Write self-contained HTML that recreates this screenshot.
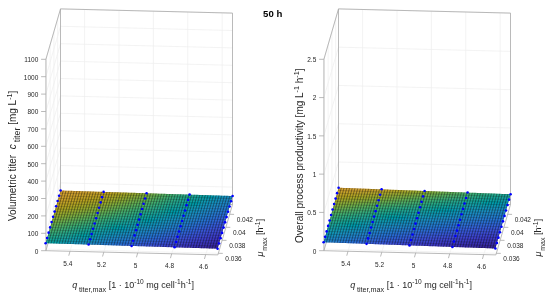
<!DOCTYPE html>
<html><head><meta charset="utf-8"><style>
html,body{margin:0;padding:0;background:#fff;width:550px;height:300px;overflow:hidden}
svg{display:block}
</style></head><body>
<svg width="550" height="300" viewBox="0 0 550 300">
<defs><filter id="bl" x="0" y="0" width="1" height="1"><feGaussianBlur stdDeviation="0.5"/></filter></defs>
<rect width="550" height="300" fill="#fff"/>
<g filter="url(#bl)">
<rect width="550" height="300" fill="#fff"/>
<line x1="84.58" y1="200.89" x2="84.58" y2="9.49" stroke="#eeeeee" stroke-width="0.7"/>
<line x1="70" y1="251.29" x2="84.58" y2="200.89" stroke="#eeeeee" stroke-width="0.7"/>
<line x1="118.98" y1="201.73" x2="118.98" y2="10.33" stroke="#eeeeee" stroke-width="0.7"/>
<line x1="103.8" y1="252.11" x2="118.98" y2="201.73" stroke="#eeeeee" stroke-width="0.7"/>
<line x1="153.38" y1="202.57" x2="153.38" y2="11.17" stroke="#eeeeee" stroke-width="0.7"/>
<line x1="137.7" y1="252.94" x2="153.38" y2="202.57" stroke="#eeeeee" stroke-width="0.7"/>
<line x1="187.78" y1="203.41" x2="187.78" y2="12.01" stroke="#eeeeee" stroke-width="0.7"/>
<line x1="171.7" y1="253.77" x2="187.78" y2="203.41" stroke="#eeeeee" stroke-width="0.7"/>
<line x1="222.18" y1="204.25" x2="222.18" y2="12.85" stroke="#eeeeee" stroke-width="0.7"/>
<line x1="205.7" y1="254.6" x2="222.18" y2="204.25" stroke="#eeeeee" stroke-width="0.7"/>
<line x1="60.5" y1="200.3" x2="232.5" y2="204.5" stroke="#eeeeee" stroke-width="0.7"/>
<line x1="45.9" y1="250.7" x2="60.5" y2="200.3" stroke="#eeeeee" stroke-width="0.7"/>
<line x1="60.5" y1="182.9" x2="232.5" y2="187.1" stroke="#eeeeee" stroke-width="0.7"/>
<line x1="45.9" y1="233.3" x2="60.5" y2="182.9" stroke="#eeeeee" stroke-width="0.7"/>
<line x1="60.5" y1="165.5" x2="232.5" y2="169.7" stroke="#eeeeee" stroke-width="0.7"/>
<line x1="45.9" y1="215.9" x2="60.5" y2="165.5" stroke="#eeeeee" stroke-width="0.7"/>
<line x1="60.5" y1="148.1" x2="232.5" y2="152.3" stroke="#eeeeee" stroke-width="0.7"/>
<line x1="45.9" y1="198.5" x2="60.5" y2="148.1" stroke="#eeeeee" stroke-width="0.7"/>
<line x1="60.5" y1="130.7" x2="232.5" y2="134.9" stroke="#eeeeee" stroke-width="0.7"/>
<line x1="45.9" y1="181.1" x2="60.5" y2="130.7" stroke="#eeeeee" stroke-width="0.7"/>
<line x1="60.5" y1="113.3" x2="232.5" y2="117.5" stroke="#eeeeee" stroke-width="0.7"/>
<line x1="45.9" y1="163.7" x2="60.5" y2="113.3" stroke="#eeeeee" stroke-width="0.7"/>
<line x1="60.5" y1="95.9" x2="232.5" y2="100.1" stroke="#eeeeee" stroke-width="0.7"/>
<line x1="45.9" y1="146.3" x2="60.5" y2="95.9" stroke="#eeeeee" stroke-width="0.7"/>
<line x1="60.5" y1="78.5" x2="232.5" y2="82.7" stroke="#eeeeee" stroke-width="0.7"/>
<line x1="45.9" y1="128.9" x2="60.5" y2="78.5" stroke="#eeeeee" stroke-width="0.7"/>
<line x1="60.5" y1="61.1" x2="232.5" y2="65.3" stroke="#eeeeee" stroke-width="0.7"/>
<line x1="45.9" y1="111.5" x2="60.5" y2="61.1" stroke="#eeeeee" stroke-width="0.7"/>
<line x1="60.5" y1="43.7" x2="232.5" y2="47.9" stroke="#eeeeee" stroke-width="0.7"/>
<line x1="45.9" y1="94.1" x2="60.5" y2="43.7" stroke="#eeeeee" stroke-width="0.7"/>
<line x1="60.5" y1="26.3" x2="232.5" y2="30.5" stroke="#eeeeee" stroke-width="0.7"/>
<line x1="45.9" y1="76.7" x2="60.5" y2="26.3" stroke="#eeeeee" stroke-width="0.7"/>
<line x1="60.5" y1="8.9" x2="232.5" y2="13.1" stroke="#eeeeee" stroke-width="0.7"/>
<line x1="45.9" y1="59.3" x2="60.5" y2="8.9" stroke="#eeeeee" stroke-width="0.7"/>
<line x1="46.37" y1="249.09" x2="46.37" y2="57.69" stroke="#eeeeee" stroke-width="0.7"/>
<line x1="46.37" y1="249.09" x2="218.37" y2="253.29" stroke="#eeeeee" stroke-width="0.7"/>
<line x1="50.13" y1="236.08" x2="50.13" y2="44.68" stroke="#eeeeee" stroke-width="0.7"/>
<line x1="50.13" y1="236.08" x2="222.13" y2="240.28" stroke="#eeeeee" stroke-width="0.7"/>
<line x1="53.9" y1="223.08" x2="53.9" y2="31.68" stroke="#eeeeee" stroke-width="0.7"/>
<line x1="53.9" y1="223.08" x2="225.9" y2="227.28" stroke="#eeeeee" stroke-width="0.7"/>
<line x1="57.67" y1="210.08" x2="57.67" y2="18.68" stroke="#eeeeee" stroke-width="0.7"/>
<line x1="57.67" y1="210.08" x2="229.67" y2="214.28" stroke="#eeeeee" stroke-width="0.7"/>
<line x1="60.5" y1="8.9" x2="232.5" y2="13.1" stroke="#a8a8a8" stroke-width="0.8"/>
<line x1="60.5" y1="200.3" x2="60.5" y2="8.9" stroke="#a8a8a8" stroke-width="0.8"/>
<line x1="232.5" y1="204.5" x2="232.5" y2="13.1" stroke="#a8a8a8" stroke-width="0.8"/>
<line x1="45.9" y1="59.3" x2="60.5" y2="8.9" stroke="#a8a8a8" stroke-width="0.8"/>
<line x1="45.9" y1="250.7" x2="45.9" y2="59.3" stroke="#a8a8a8" stroke-width="0.8"/>
<line x1="45.9" y1="250.7" x2="217.9" y2="254.9" stroke="#a8a8a8" stroke-width="0.8"/>
<line x1="217.9" y1="254.9" x2="232.5" y2="204.5" stroke="#a8a8a8" stroke-width="0.8"/>
<line x1="45.9" y1="250.7" x2="60.5" y2="200.3" stroke="#a8a8a8" stroke-width="0.8"/>
<line x1="60.5" y1="200.3" x2="232.5" y2="204.5" stroke="#a8a8a8" stroke-width="0.8"/>
<defs><linearGradient id="gL0" gradientUnits="userSpaceOnUse" x1="46.97" y1="243.24" x2="61.97" y2="190.54"><stop offset="0.000" stop-color="#0ca3a1"/><stop offset="0.167" stop-color="#33ad7e"/><stop offset="0.333" stop-color="#64b054"/><stop offset="0.500" stop-color="#95ab30"/><stop offset="0.667" stop-color="#b8a422"/><stop offset="0.833" stop-color="#cea02e"/><stop offset="1.000" stop-color="#daa334"/></linearGradient><linearGradient id="gL1" gradientUnits="userSpaceOnUse" x1="49.70" y1="243.33" x2="64.70" y2="190.63"><stop offset="0.000" stop-color="#07a2a4"/><stop offset="0.167" stop-color="#30ac82"/><stop offset="0.333" stop-color="#5fb058"/><stop offset="0.500" stop-color="#90ab33"/><stop offset="0.667" stop-color="#b5a422"/><stop offset="0.833" stop-color="#cca02c"/><stop offset="1.000" stop-color="#d9a234"/></linearGradient><linearGradient id="gL2" gradientUnits="userSpaceOnUse" x1="52.43" y1="243.42" x2="67.43" y2="190.72"><stop offset="0.000" stop-color="#02a1a7"/><stop offset="0.167" stop-color="#2dab85"/><stop offset="0.333" stop-color="#59b05d"/><stop offset="0.500" stop-color="#8cac36"/><stop offset="0.667" stop-color="#b1a522"/><stop offset="0.833" stop-color="#caa02a"/><stop offset="1.000" stop-color="#d8a234"/></linearGradient><linearGradient id="gL3" gradientUnits="userSpaceOnUse" x1="55.16" y1="243.51" x2="70.16" y2="190.81"><stop offset="0.000" stop-color="#019fab"/><stop offset="0.167" stop-color="#2baa89"/><stop offset="0.333" stop-color="#54b061"/><stop offset="0.500" stop-color="#87ad3a"/><stop offset="0.667" stop-color="#aea623"/><stop offset="0.833" stop-color="#c8a129"/><stop offset="1.000" stop-color="#d7a134"/></linearGradient><linearGradient id="gL4" gradientUnits="userSpaceOnUse" x1="57.89" y1="243.59" x2="72.89" y2="190.89"><stop offset="0.000" stop-color="#019eae"/><stop offset="0.167" stop-color="#28a98c"/><stop offset="0.333" stop-color="#4fb066"/><stop offset="0.500" stop-color="#82ad3d"/><stop offset="0.667" stop-color="#aba624"/><stop offset="0.833" stop-color="#c6a127"/><stop offset="1.000" stop-color="#d6a134"/></linearGradient><linearGradient id="gL5" gradientUnits="userSpaceOnUse" x1="60.62" y1="243.68" x2="75.62" y2="190.98"><stop offset="0.000" stop-color="#049cb1"/><stop offset="0.167" stop-color="#26a890"/><stop offset="0.333" stop-color="#4ab06a"/><stop offset="0.500" stop-color="#7dae41"/><stop offset="0.667" stop-color="#a7a725"/><stop offset="0.833" stop-color="#c4a126"/><stop offset="1.000" stop-color="#d6a034"/></linearGradient><linearGradient id="gL6" gradientUnits="userSpaceOnUse" x1="63.35" y1="243.77" x2="78.35" y2="191.07"><stop offset="0.000" stop-color="#089bb4"/><stop offset="0.167" stop-color="#22a793"/><stop offset="0.333" stop-color="#45af6e"/><stop offset="0.500" stop-color="#78ae45"/><stop offset="0.667" stop-color="#a4a827"/><stop offset="0.833" stop-color="#c2a225"/><stop offset="1.000" stop-color="#d4a034"/></linearGradient><linearGradient id="gL7" gradientUnits="userSpaceOnUse" x1="66.08" y1="243.85" x2="81.08" y2="191.15"><stop offset="0.000" stop-color="#0d99b7"/><stop offset="0.167" stop-color="#1ea696"/><stop offset="0.333" stop-color="#3faf72"/><stop offset="0.500" stop-color="#73af49"/><stop offset="0.667" stop-color="#a0a929"/><stop offset="0.833" stop-color="#bfa224"/><stop offset="1.000" stop-color="#d3a033"/></linearGradient><linearGradient id="gL8" gradientUnits="userSpaceOnUse" x1="68.81" y1="243.94" x2="83.81" y2="191.24"><stop offset="0.000" stop-color="#1198b9"/><stop offset="0.167" stop-color="#19a599"/><stop offset="0.333" stop-color="#3bae76"/><stop offset="0.500" stop-color="#6eaf4d"/><stop offset="0.667" stop-color="#9ca92b"/><stop offset="0.833" stop-color="#bda223"/><stop offset="1.000" stop-color="#d2a032"/></linearGradient><linearGradient id="gL9" gradientUnits="userSpaceOnUse" x1="71.54" y1="244.03" x2="86.54" y2="191.33"><stop offset="0.000" stop-color="#1496bc"/><stop offset="0.167" stop-color="#14a49d"/><stop offset="0.333" stop-color="#37ae7a"/><stop offset="0.500" stop-color="#69b050"/><stop offset="0.667" stop-color="#99aa2e"/><stop offset="0.833" stop-color="#bba323"/><stop offset="1.000" stop-color="#d1a031"/></linearGradient><linearGradient id="gL10" gradientUnits="userSpaceOnUse" x1="74.27" y1="244.12" x2="89.27" y2="191.42"><stop offset="0.000" stop-color="#1694be"/><stop offset="0.167" stop-color="#0ea3a0"/><stop offset="0.333" stop-color="#33ad7d"/><stop offset="0.500" stop-color="#64b054"/><stop offset="0.667" stop-color="#95ab30"/><stop offset="0.833" stop-color="#b8a322"/><stop offset="1.000" stop-color="#d0a030"/></linearGradient><linearGradient id="gL11" gradientUnits="userSpaceOnUse" x1="77.00" y1="244.20" x2="92.00" y2="191.50"><stop offset="0.000" stop-color="#1892c0"/><stop offset="0.167" stop-color="#09a2a3"/><stop offset="0.333" stop-color="#30ac81"/><stop offset="0.500" stop-color="#5fb058"/><stop offset="0.667" stop-color="#91ab33"/><stop offset="0.833" stop-color="#b6a422"/><stop offset="1.000" stop-color="#cfa02f"/></linearGradient><linearGradient id="gL12" gradientUnits="userSpaceOnUse" x1="79.73" y1="244.29" x2="94.73" y2="191.59"><stop offset="0.000" stop-color="#1a90c1"/><stop offset="0.167" stop-color="#04a1a6"/><stop offset="0.333" stop-color="#2eab84"/><stop offset="0.500" stop-color="#5ab05c"/><stop offset="0.667" stop-color="#8dac35"/><stop offset="0.833" stop-color="#b4a422"/><stop offset="1.000" stop-color="#cda02d"/></linearGradient><linearGradient id="gL13" gradientUnits="userSpaceOnUse" x1="82.46" y1="244.38" x2="97.46" y2="191.68"><stop offset="0.000" stop-color="#1c8dc3"/><stop offset="0.167" stop-color="#01a0a9"/><stop offset="0.333" stop-color="#2bab88"/><stop offset="0.500" stop-color="#55b060"/><stop offset="0.667" stop-color="#89ac38"/><stop offset="0.833" stop-color="#b1a522"/><stop offset="1.000" stop-color="#cca02c"/></linearGradient><linearGradient id="gL14" gradientUnits="userSpaceOnUse" x1="85.19" y1="244.47" x2="100.19" y2="191.77"><stop offset="0.000" stop-color="#1d8bc4"/><stop offset="0.167" stop-color="#019fac"/><stop offset="0.333" stop-color="#29aa8b"/><stop offset="0.500" stop-color="#51b064"/><stop offset="0.667" stop-color="#85ad3b"/><stop offset="0.833" stop-color="#afa623"/><stop offset="1.000" stop-color="#cba02b"/></linearGradient><linearGradient id="gL15" gradientUnits="userSpaceOnUse" x1="87.92" y1="244.55" x2="102.92" y2="191.85"><stop offset="0.000" stop-color="#1f89c5"/><stop offset="0.167" stop-color="#029eaf"/><stop offset="0.333" stop-color="#27a98e"/><stop offset="0.500" stop-color="#4cb067"/><stop offset="0.667" stop-color="#81ad3e"/><stop offset="0.833" stop-color="#aca624"/><stop offset="1.000" stop-color="#caa02a"/></linearGradient><linearGradient id="gL16" gradientUnits="userSpaceOnUse" x1="90.65" y1="244.64" x2="105.65" y2="191.94"><stop offset="0.000" stop-color="#2087c6"/><stop offset="0.167" stop-color="#059cb1"/><stop offset="0.333" stop-color="#24a891"/><stop offset="0.500" stop-color="#47af6c"/><stop offset="0.667" stop-color="#7cae42"/><stop offset="0.833" stop-color="#a8a725"/><stop offset="1.000" stop-color="#c7a128"/></linearGradient><linearGradient id="gL17" gradientUnits="userSpaceOnUse" x1="93.38" y1="244.73" x2="108.38" y2="192.03"><stop offset="0.000" stop-color="#2184c8"/><stop offset="0.167" stop-color="#099bb4"/><stop offset="0.333" stop-color="#21a794"/><stop offset="0.500" stop-color="#42af70"/><stop offset="0.667" stop-color="#76af47"/><stop offset="0.833" stop-color="#a4a827"/><stop offset="1.000" stop-color="#c3a126"/></linearGradient><linearGradient id="gL18" gradientUnits="userSpaceOnUse" x1="96.11" y1="244.82" x2="111.11" y2="192.12"><stop offset="0.000" stop-color="#2282ca"/><stop offset="0.167" stop-color="#0d99b7"/><stop offset="0.333" stop-color="#1da697"/><stop offset="0.500" stop-color="#3daf74"/><stop offset="0.667" stop-color="#71af4b"/><stop offset="0.833" stop-color="#9fa92a"/><stop offset="1.000" stop-color="#c0a224"/></linearGradient><linearGradient id="gL19" gradientUnits="userSpaceOnUse" x1="98.84" y1="244.90" x2="113.84" y2="192.20"><stop offset="0.000" stop-color="#2380cb"/><stop offset="0.167" stop-color="#1197b9"/><stop offset="0.333" stop-color="#18a59b"/><stop offset="0.500" stop-color="#39ae78"/><stop offset="0.667" stop-color="#6baf4f"/><stop offset="0.833" stop-color="#9aaa2d"/><stop offset="1.000" stop-color="#bca323"/></linearGradient><linearGradient id="gL20" gradientUnits="userSpaceOnUse" x1="101.57" y1="244.99" x2="116.57" y2="192.29"><stop offset="0.000" stop-color="#257dcd"/><stop offset="0.167" stop-color="#1496bc"/><stop offset="0.333" stop-color="#12a49e"/><stop offset="0.500" stop-color="#35ad7c"/><stop offset="0.667" stop-color="#65b053"/><stop offset="0.833" stop-color="#95ab30"/><stop offset="1.000" stop-color="#b9a322"/></linearGradient><linearGradient id="gL21" gradientUnits="userSpaceOnUse" x1="104.30" y1="245.08" x2="119.30" y2="192.38"><stop offset="0.000" stop-color="#267bcf"/><stop offset="0.167" stop-color="#1694be"/><stop offset="0.333" stop-color="#0ca3a1"/><stop offset="0.500" stop-color="#31ac80"/><stop offset="0.667" stop-color="#5fb058"/><stop offset="0.833" stop-color="#90ab33"/><stop offset="1.000" stop-color="#b5a422"/></linearGradient><linearGradient id="gL22" gradientUnits="userSpaceOnUse" x1="107.03" y1="245.16" x2="122.03" y2="192.46"><stop offset="0.000" stop-color="#2778d1"/><stop offset="0.167" stop-color="#1892c0"/><stop offset="0.333" stop-color="#07a2a4"/><stop offset="0.500" stop-color="#2fac83"/><stop offset="0.667" stop-color="#5ab05c"/><stop offset="0.833" stop-color="#8bac37"/><stop offset="1.000" stop-color="#b1a522"/></linearGradient><linearGradient id="gL23" gradientUnits="userSpaceOnUse" x1="109.76" y1="245.25" x2="124.76" y2="192.55"><stop offset="0.000" stop-color="#2776d3"/><stop offset="0.167" stop-color="#1a90c1"/><stop offset="0.333" stop-color="#03a1a7"/><stop offset="0.500" stop-color="#2cab87"/><stop offset="0.667" stop-color="#54b061"/><stop offset="0.833" stop-color="#86ad3a"/><stop offset="1.000" stop-color="#ada623"/></linearGradient><linearGradient id="gL24" gradientUnits="userSpaceOnUse" x1="112.49" y1="245.34" x2="127.49" y2="192.64"><stop offset="0.000" stop-color="#2773d5"/><stop offset="0.167" stop-color="#1b8ec3"/><stop offset="0.333" stop-color="#01a0aa"/><stop offset="0.500" stop-color="#2aaa8a"/><stop offset="0.667" stop-color="#4fb065"/><stop offset="0.833" stop-color="#81ae3f"/><stop offset="1.000" stop-color="#a9a725"/></linearGradient><linearGradient id="gL25" gradientUnits="userSpaceOnUse" x1="115.22" y1="245.43" x2="130.22" y2="192.73"><stop offset="0.000" stop-color="#2870d6"/><stop offset="0.167" stop-color="#1d8cc4"/><stop offset="0.333" stop-color="#019eac"/><stop offset="0.500" stop-color="#27a98d"/><stop offset="0.667" stop-color="#4ab069"/><stop offset="0.833" stop-color="#7bae43"/><stop offset="1.000" stop-color="#a4a827"/></linearGradient><linearGradient id="gL26" gradientUnits="userSpaceOnUse" x1="117.95" y1="245.51" x2="132.95" y2="192.81"><stop offset="0.000" stop-color="#296ed8"/><stop offset="0.167" stop-color="#1e89c5"/><stop offset="0.333" stop-color="#029daf"/><stop offset="0.500" stop-color="#25a890"/><stop offset="0.667" stop-color="#46af6d"/><stop offset="0.833" stop-color="#76af47"/><stop offset="1.000" stop-color="#a0a929"/></linearGradient><linearGradient id="gL27" gradientUnits="userSpaceOnUse" x1="120.68" y1="245.60" x2="135.68" y2="192.90"><stop offset="0.000" stop-color="#2b6bd9"/><stop offset="0.167" stop-color="#1f87c6"/><stop offset="0.333" stop-color="#059cb2"/><stop offset="0.500" stop-color="#22a793"/><stop offset="0.667" stop-color="#41af71"/><stop offset="0.833" stop-color="#71af4b"/><stop offset="1.000" stop-color="#9ba92c"/></linearGradient><linearGradient id="gL28" gradientUnits="userSpaceOnUse" x1="123.41" y1="245.69" x2="138.41" y2="192.99"><stop offset="0.000" stop-color="#2d68da"/><stop offset="0.167" stop-color="#2085c7"/><stop offset="0.333" stop-color="#099ab5"/><stop offset="0.500" stop-color="#1ea696"/><stop offset="0.667" stop-color="#3cae75"/><stop offset="0.833" stop-color="#6baf4f"/><stop offset="1.000" stop-color="#97aa2f"/></linearGradient><linearGradient id="gL29" gradientUnits="userSpaceOnUse" x1="126.14" y1="245.78" x2="141.14" y2="193.08"><stop offset="0.000" stop-color="#3065db"/><stop offset="0.167" stop-color="#2183c9"/><stop offset="0.333" stop-color="#0d99b7"/><stop offset="0.500" stop-color="#1aa599"/><stop offset="0.667" stop-color="#38ae79"/><stop offset="0.833" stop-color="#66b053"/><stop offset="1.000" stop-color="#92ab32"/></linearGradient><linearGradient id="gL30" gradientUnits="userSpaceOnUse" x1="128.87" y1="245.86" x2="143.87" y2="193.16"><stop offset="0.000" stop-color="#3362db"/><stop offset="0.167" stop-color="#2281cb"/><stop offset="0.333" stop-color="#1197b9"/><stop offset="0.500" stop-color="#15a49c"/><stop offset="0.667" stop-color="#34ad7c"/><stop offset="0.833" stop-color="#60b057"/><stop offset="1.000" stop-color="#8dac35"/></linearGradient><linearGradient id="gL31" gradientUnits="userSpaceOnUse" x1="131.60" y1="245.95" x2="146.60" y2="193.25"><stop offset="0.000" stop-color="#365fdb"/><stop offset="0.167" stop-color="#247ecc"/><stop offset="0.333" stop-color="#1496bc"/><stop offset="0.500" stop-color="#0fa39f"/><stop offset="0.667" stop-color="#31ac80"/><stop offset="0.833" stop-color="#5bb05b"/><stop offset="1.000" stop-color="#89ad38"/></linearGradient><linearGradient id="gL32" gradientUnits="userSpaceOnUse" x1="134.33" y1="246.04" x2="149.33" y2="193.34"><stop offset="0.000" stop-color="#385cdb"/><stop offset="0.167" stop-color="#257cce"/><stop offset="0.333" stop-color="#1694be"/><stop offset="0.500" stop-color="#09a2a3"/><stop offset="0.667" stop-color="#2eab84"/><stop offset="0.833" stop-color="#54b061"/><stop offset="1.000" stop-color="#81ad3e"/></linearGradient><linearGradient id="gL33" gradientUnits="userSpaceOnUse" x1="137.06" y1="246.12" x2="152.06" y2="193.42"><stop offset="0.000" stop-color="#395ada"/><stop offset="0.167" stop-color="#267ad0"/><stop offset="0.333" stop-color="#1892c0"/><stop offset="0.500" stop-color="#05a1a6"/><stop offset="0.667" stop-color="#2baa88"/><stop offset="0.833" stop-color="#4eb066"/><stop offset="1.000" stop-color="#7aae44"/></linearGradient><linearGradient id="gL34" gradientUnits="userSpaceOnUse" x1="139.79" y1="246.21" x2="154.79" y2="193.51"><stop offset="0.000" stop-color="#3a57da"/><stop offset="0.167" stop-color="#2778d2"/><stop offset="0.333" stop-color="#1a90c1"/><stop offset="0.500" stop-color="#01a0a9"/><stop offset="0.667" stop-color="#28a98c"/><stop offset="0.833" stop-color="#47af6c"/><stop offset="1.000" stop-color="#72af49"/></linearGradient><linearGradient id="gL35" gradientUnits="userSpaceOnUse" x1="142.52" y1="246.30" x2="157.52" y2="193.60"><stop offset="0.000" stop-color="#3b55d9"/><stop offset="0.167" stop-color="#2775d3"/><stop offset="0.333" stop-color="#1b8ec3"/><stop offset="0.500" stop-color="#019fac"/><stop offset="0.667" stop-color="#25a890"/><stop offset="0.833" stop-color="#41af71"/><stop offset="1.000" stop-color="#6baf4f"/></linearGradient><linearGradient id="gL36" gradientUnits="userSpaceOnUse" x1="145.25" y1="246.39" x2="160.25" y2="193.69"><stop offset="0.000" stop-color="#3c53d8"/><stop offset="0.167" stop-color="#2773d5"/><stop offset="0.333" stop-color="#1d8cc4"/><stop offset="0.500" stop-color="#039daf"/><stop offset="0.667" stop-color="#21a794"/><stop offset="0.833" stop-color="#3bae76"/><stop offset="1.000" stop-color="#63b055"/></linearGradient><linearGradient id="gL37" gradientUnits="userSpaceOnUse" x1="147.98" y1="246.47" x2="162.98" y2="193.77"><stop offset="0.000" stop-color="#3d50d8"/><stop offset="0.167" stop-color="#2870d6"/><stop offset="0.333" stop-color="#1e89c5"/><stop offset="0.500" stop-color="#069cb2"/><stop offset="0.667" stop-color="#1da697"/><stop offset="0.833" stop-color="#36ad7b"/><stop offset="1.000" stop-color="#5cb05b"/></linearGradient><linearGradient id="gL38" gradientUnits="userSpaceOnUse" x1="150.71" y1="246.56" x2="165.71" y2="193.86"><stop offset="0.000" stop-color="#3d4ed6"/><stop offset="0.167" stop-color="#296ed7"/><stop offset="0.333" stop-color="#1f87c6"/><stop offset="0.500" stop-color="#0a9ab5"/><stop offset="0.667" stop-color="#17a59b"/><stop offset="0.833" stop-color="#32ad7f"/><stop offset="1.000" stop-color="#55b060"/></linearGradient><linearGradient id="gL39" gradientUnits="userSpaceOnUse" x1="153.44" y1="246.65" x2="168.44" y2="193.95"><stop offset="0.000" stop-color="#3d4cd5"/><stop offset="0.167" stop-color="#2a6bd8"/><stop offset="0.333" stop-color="#2085c7"/><stop offset="0.500" stop-color="#0f98b8"/><stop offset="0.667" stop-color="#11a49e"/><stop offset="0.833" stop-color="#2eab84"/><stop offset="1.000" stop-color="#4eb066"/></linearGradient><linearGradient id="gL40" gradientUnits="userSpaceOnUse" x1="156.17" y1="246.74" x2="171.17" y2="194.04"><stop offset="0.000" stop-color="#3d49d4"/><stop offset="0.167" stop-color="#2d69d9"/><stop offset="0.333" stop-color="#2183c9"/><stop offset="0.500" stop-color="#1297ba"/><stop offset="0.667" stop-color="#0aa3a2"/><stop offset="0.833" stop-color="#2baa88"/><stop offset="1.000" stop-color="#47af6c"/></linearGradient><linearGradient id="gL41" gradientUnits="userSpaceOnUse" x1="158.90" y1="246.82" x2="173.90" y2="194.12"><stop offset="0.000" stop-color="#3e47d2"/><stop offset="0.167" stop-color="#2f66da"/><stop offset="0.333" stop-color="#2281cb"/><stop offset="0.500" stop-color="#1595bd"/><stop offset="0.667" stop-color="#05a1a5"/><stop offset="0.833" stop-color="#28a98c"/><stop offset="1.000" stop-color="#41af71"/></linearGradient><linearGradient id="gL42" gradientUnits="userSpaceOnUse" x1="161.63" y1="246.91" x2="176.63" y2="194.21"><stop offset="0.000" stop-color="#3e45d1"/><stop offset="0.167" stop-color="#3263db"/><stop offset="0.333" stop-color="#247ecc"/><stop offset="0.500" stop-color="#1793bf"/><stop offset="0.667" stop-color="#01a0a9"/><stop offset="0.833" stop-color="#25a890"/><stop offset="1.000" stop-color="#3bae76"/></linearGradient><linearGradient id="gL43" gradientUnits="userSpaceOnUse" x1="164.36" y1="247.00" x2="179.36" y2="194.30"><stop offset="0.000" stop-color="#3e42cf"/><stop offset="0.167" stop-color="#3560db"/><stop offset="0.333" stop-color="#257cce"/><stop offset="0.500" stop-color="#1991c1"/><stop offset="0.667" stop-color="#019fac"/><stop offset="0.833" stop-color="#21a794"/><stop offset="1.000" stop-color="#35ad7b"/></linearGradient><linearGradient id="gL44" gradientUnits="userSpaceOnUse" x1="167.09" y1="247.08" x2="182.09" y2="194.38"><stop offset="0.000" stop-color="#3e40cd"/><stop offset="0.167" stop-color="#375edb"/><stop offset="0.333" stop-color="#2679d0"/><stop offset="0.500" stop-color="#1b8ec2"/><stop offset="0.667" stop-color="#029daf"/><stop offset="0.833" stop-color="#1da697"/><stop offset="1.000" stop-color="#31ac80"/></linearGradient><linearGradient id="gL45" gradientUnits="userSpaceOnUse" x1="169.82" y1="247.17" x2="184.82" y2="194.47"><stop offset="0.000" stop-color="#3e3ecb"/><stop offset="0.167" stop-color="#395bda"/><stop offset="0.333" stop-color="#2777d2"/><stop offset="0.500" stop-color="#1c8cc3"/><stop offset="0.667" stop-color="#069cb2"/><stop offset="0.833" stop-color="#17a59b"/><stop offset="1.000" stop-color="#2eab84"/></linearGradient><linearGradient id="gL46" gradientUnits="userSpaceOnUse" x1="172.55" y1="247.26" x2="187.55" y2="194.56"><stop offset="0.000" stop-color="#3d3bc9"/><stop offset="0.167" stop-color="#3a59da"/><stop offset="0.333" stop-color="#2775d4"/><stop offset="0.500" stop-color="#1e8ac5"/><stop offset="0.667" stop-color="#0a9ab5"/><stop offset="0.833" stop-color="#10a49f"/><stop offset="1.000" stop-color="#2baa88"/></linearGradient><linearGradient id="gL47" gradientUnits="userSpaceOnUse" x1="175.28" y1="247.35" x2="190.28" y2="194.65"><stop offset="0.000" stop-color="#3d39c6"/><stop offset="0.167" stop-color="#3b56d9"/><stop offset="0.333" stop-color="#2872d5"/><stop offset="0.500" stop-color="#1f88c6"/><stop offset="0.667" stop-color="#0f98b8"/><stop offset="0.833" stop-color="#09a2a2"/><stop offset="1.000" stop-color="#28a98d"/></linearGradient><linearGradient id="gL48" gradientUnits="userSpaceOnUse" x1="178.01" y1="247.43" x2="193.01" y2="194.73"><stop offset="0.000" stop-color="#3d37c4"/><stop offset="0.167" stop-color="#3c53d9"/><stop offset="0.333" stop-color="#286fd7"/><stop offset="0.500" stop-color="#2085c7"/><stop offset="0.667" stop-color="#1396bb"/><stop offset="0.833" stop-color="#04a1a6"/><stop offset="1.000" stop-color="#24a891"/></linearGradient><linearGradient id="gL49" gradientUnits="userSpaceOnUse" x1="180.74" y1="247.52" x2="195.74" y2="194.82"><stop offset="0.000" stop-color="#3d35c1"/><stop offset="0.167" stop-color="#3c51d8"/><stop offset="0.333" stop-color="#2a6cd8"/><stop offset="0.500" stop-color="#2182c9"/><stop offset="0.667" stop-color="#1694be"/><stop offset="0.833" stop-color="#019faa"/><stop offset="1.000" stop-color="#20a795"/></linearGradient><linearGradient id="gL50" gradientUnits="userSpaceOnUse" x1="183.47" y1="247.61" x2="198.47" y2="194.91"><stop offset="0.000" stop-color="#3c33bf"/><stop offset="0.167" stop-color="#3d4fd7"/><stop offset="0.333" stop-color="#2c69d9"/><stop offset="0.500" stop-color="#2380cb"/><stop offset="0.667" stop-color="#1991c0"/><stop offset="0.833" stop-color="#019eae"/><stop offset="1.000" stop-color="#19a599"/></linearGradient><linearGradient id="gL51" gradientUnits="userSpaceOnUse" x1="186.20" y1="247.70" x2="201.20" y2="195.00"><stop offset="0.000" stop-color="#3c32bc"/><stop offset="0.167" stop-color="#3d4cd5"/><stop offset="0.333" stop-color="#2f66da"/><stop offset="0.500" stop-color="#257dcd"/><stop offset="0.667" stop-color="#1b8fc2"/><stop offset="0.833" stop-color="#059cb2"/><stop offset="1.000" stop-color="#12a49e"/></linearGradient><linearGradient id="gL52" gradientUnits="userSpaceOnUse" x1="188.93" y1="247.78" x2="203.93" y2="195.08"><stop offset="0.000" stop-color="#3c30b9"/><stop offset="0.167" stop-color="#3d4ad4"/><stop offset="0.333" stop-color="#3263db"/><stop offset="0.500" stop-color="#267ad0"/><stop offset="0.667" stop-color="#1c8cc4"/><stop offset="0.833" stop-color="#0b9ab5"/><stop offset="1.000" stop-color="#0aa3a2"/></linearGradient><linearGradient id="gL53" gradientUnits="userSpaceOnUse" x1="191.66" y1="247.87" x2="206.66" y2="195.17"><stop offset="0.000" stop-color="#3b2eb6"/><stop offset="0.167" stop-color="#3e47d2"/><stop offset="0.333" stop-color="#3560db"/><stop offset="0.500" stop-color="#2777d2"/><stop offset="0.667" stop-color="#1e89c5"/><stop offset="0.833" stop-color="#1098b9"/><stop offset="1.000" stop-color="#05a1a6"/></linearGradient><linearGradient id="gL54" gradientUnits="userSpaceOnUse" x1="194.39" y1="247.96" x2="209.39" y2="195.26"><stop offset="0.000" stop-color="#3b2db2"/><stop offset="0.167" stop-color="#3e45d1"/><stop offset="0.333" stop-color="#375ddb"/><stop offset="0.500" stop-color="#2774d4"/><stop offset="0.667" stop-color="#2087c6"/><stop offset="0.833" stop-color="#1496bc"/><stop offset="1.000" stop-color="#01a0aa"/></linearGradient><linearGradient id="gL55" gradientUnits="userSpaceOnUse" x1="197.12" y1="248.05" x2="212.12" y2="195.35"><stop offset="0.000" stop-color="#3a2bae"/><stop offset="0.167" stop-color="#3e42cf"/><stop offset="0.333" stop-color="#395ada"/><stop offset="0.500" stop-color="#2871d6"/><stop offset="0.667" stop-color="#2184c8"/><stop offset="0.833" stop-color="#1793be"/><stop offset="1.000" stop-color="#019ead"/></linearGradient><linearGradient id="gL56" gradientUnits="userSpaceOnUse" x1="199.85" y1="248.13" x2="214.85" y2="195.43"><stop offset="0.000" stop-color="#392aab"/><stop offset="0.167" stop-color="#3e40cd"/><stop offset="0.333" stop-color="#3a57da"/><stop offset="0.500" stop-color="#296ed7"/><stop offset="0.667" stop-color="#2281ca"/><stop offset="0.833" stop-color="#1991c1"/><stop offset="1.000" stop-color="#049cb1"/></linearGradient><linearGradient id="gL57" gradientUnits="userSpaceOnUse" x1="202.58" y1="248.22" x2="217.58" y2="195.52"><stop offset="0.000" stop-color="#3929a7"/><stop offset="0.167" stop-color="#3d3ecb"/><stop offset="0.333" stop-color="#3c54d9"/><stop offset="0.500" stop-color="#2b6bd9"/><stop offset="0.667" stop-color="#247ecd"/><stop offset="0.833" stop-color="#1b8ec3"/><stop offset="1.000" stop-color="#099ab5"/></linearGradient><linearGradient id="gL58" gradientUnits="userSpaceOnUse" x1="205.31" y1="248.31" x2="220.31" y2="195.61"><stop offset="0.000" stop-color="#3827a3"/><stop offset="0.167" stop-color="#3d3bc8"/><stop offset="0.333" stop-color="#3c51d8"/><stop offset="0.500" stop-color="#2e68da"/><stop offset="0.667" stop-color="#267bcf"/><stop offset="0.833" stop-color="#1d8bc4"/><stop offset="1.000" stop-color="#0f98b8"/></linearGradient><linearGradient id="gL59" gradientUnits="userSpaceOnUse" x1="208.04" y1="248.39" x2="223.04" y2="195.69"><stop offset="0.000" stop-color="#38269f"/><stop offset="0.167" stop-color="#3d39c6"/><stop offset="0.333" stop-color="#3d4ed7"/><stop offset="0.500" stop-color="#3164db"/><stop offset="0.667" stop-color="#2778d1"/><stop offset="0.833" stop-color="#1f88c5"/><stop offset="1.000" stop-color="#1396bb"/></linearGradient><linearGradient id="gL60" gradientUnits="userSpaceOnUse" x1="210.77" y1="248.48" x2="225.77" y2="195.78"><stop offset="0.000" stop-color="#37249b"/><stop offset="0.167" stop-color="#3d36c3"/><stop offset="0.333" stop-color="#3d4cd5"/><stop offset="0.500" stop-color="#3461db"/><stop offset="0.667" stop-color="#2775d4"/><stop offset="0.833" stop-color="#2086c7"/><stop offset="1.000" stop-color="#1694be"/></linearGradient><linearGradient id="gL61" gradientUnits="userSpaceOnUse" x1="213.50" y1="248.57" x2="228.50" y2="195.87"><stop offset="0.000" stop-color="#362397"/><stop offset="0.167" stop-color="#3c34c0"/><stop offset="0.333" stop-color="#3d49d3"/><stop offset="0.500" stop-color="#375ddb"/><stop offset="0.667" stop-color="#2872d6"/><stop offset="0.833" stop-color="#2183c9"/><stop offset="1.000" stop-color="#1991c0"/></linearGradient><linearGradient id="gL62" gradientUnits="userSpaceOnUse" x1="216.23" y1="248.66" x2="231.23" y2="195.96"><stop offset="0.000" stop-color="#352293"/><stop offset="0.167" stop-color="#3c32bc"/><stop offset="0.333" stop-color="#3e46d1"/><stop offset="0.500" stop-color="#395ada"/><stop offset="0.667" stop-color="#296fd7"/><stop offset="0.833" stop-color="#2380cb"/><stop offset="1.000" stop-color="#1b8fc2"/></linearGradient><clipPath id="cgL"><polygon points="45.6,243.2 217.6,248.7 232.6,196.0 60.6,190.5"/></clipPath></defs>
<polygon points="45.60,243.20 48.59,243.30 63.59,190.60 60.60,190.50" fill="url(#gL0)"/>
<polygon points="48.07,243.28 51.32,243.38 66.32,190.68 63.07,190.58" fill="url(#gL1)"/>
<polygon points="50.80,243.37 54.05,243.47 69.05,190.77 65.80,190.67" fill="url(#gL2)"/>
<polygon points="53.53,243.45 56.78,243.56 71.78,190.86 68.53,190.75" fill="url(#gL3)"/>
<polygon points="56.26,243.54 59.51,243.64 74.51,190.94 71.26,190.84" fill="url(#gL4)"/>
<polygon points="58.99,243.63 62.24,243.73 77.24,191.03 73.99,190.93" fill="url(#gL5)"/>
<polygon points="61.72,243.72 64.97,243.82 79.97,191.12 76.72,191.02" fill="url(#gL6)"/>
<polygon points="64.45,243.80 67.70,243.91 82.70,191.21 79.45,191.10" fill="url(#gL7)"/>
<polygon points="67.18,243.89 70.43,243.99 85.43,191.29 82.18,191.19" fill="url(#gL8)"/>
<polygon points="69.91,243.98 73.16,244.08 88.16,191.38 84.91,191.28" fill="url(#gL9)"/>
<polygon points="72.64,244.06 75.89,244.17 90.89,191.47 87.64,191.36" fill="url(#gL10)"/>
<polygon points="75.37,244.15 78.62,244.26 93.62,191.56 90.37,191.45" fill="url(#gL11)"/>
<polygon points="78.10,244.24 81.35,244.34 96.35,191.64 93.10,191.54" fill="url(#gL12)"/>
<polygon points="80.83,244.33 84.08,244.43 99.08,191.73 95.83,191.63" fill="url(#gL13)"/>
<polygon points="83.56,244.41 86.81,244.52 101.81,191.82 98.56,191.71" fill="url(#gL14)"/>
<polygon points="86.29,244.50 89.54,244.61 104.54,191.91 101.29,191.80" fill="url(#gL15)"/>
<polygon points="89.02,244.59 92.27,244.69 107.27,191.99 104.02,191.89" fill="url(#gL16)"/>
<polygon points="91.75,244.68 95.00,244.78 110.00,192.08 106.75,191.98" fill="url(#gL17)"/>
<polygon points="94.48,244.76 97.73,244.87 112.73,192.17 109.48,192.06" fill="url(#gL18)"/>
<polygon points="97.22,244.85 100.46,244.95 115.46,192.25 112.22,192.15" fill="url(#gL19)"/>
<polygon points="99.95,244.94 103.19,245.04 118.19,192.34 114.95,192.24" fill="url(#gL20)"/>
<polygon points="102.68,245.03 105.92,245.13 120.92,192.43 117.68,192.33" fill="url(#gL21)"/>
<polygon points="105.41,245.11 108.65,245.22 123.65,192.52 120.41,192.41" fill="url(#gL22)"/>
<polygon points="108.14,245.20 111.38,245.30 126.38,192.60 123.14,192.50" fill="url(#gL23)"/>
<polygon points="110.87,245.29 114.11,245.39 129.11,192.69 125.87,192.59" fill="url(#gL24)"/>
<polygon points="113.60,245.37 116.84,245.48 131.84,192.78 128.60,192.67" fill="url(#gL25)"/>
<polygon points="116.33,245.46 119.57,245.57 134.57,192.87 131.33,192.76" fill="url(#gL26)"/>
<polygon points="119.06,245.55 122.30,245.65 137.30,192.95 134.06,192.85" fill="url(#gL27)"/>
<polygon points="121.79,245.64 125.03,245.74 140.03,193.04 136.79,192.94" fill="url(#gL28)"/>
<polygon points="124.52,245.72 127.76,245.83 142.76,193.13 139.52,193.02" fill="url(#gL29)"/>
<polygon points="127.25,245.81 130.49,245.91 145.49,193.21 142.25,193.11" fill="url(#gL30)"/>
<polygon points="129.98,245.90 133.22,246.00 148.22,193.30 144.98,193.20" fill="url(#gL31)"/>
<polygon points="132.71,245.99 135.95,246.09 150.95,193.39 147.71,193.29" fill="url(#gL32)"/>
<polygon points="135.44,246.07 138.68,246.18 153.68,193.48 150.44,193.37" fill="url(#gL33)"/>
<polygon points="138.17,246.16 141.41,246.26 156.41,193.56 153.17,193.46" fill="url(#gL34)"/>
<polygon points="140.90,246.25 144.14,246.35 159.14,193.65 155.90,193.55" fill="url(#gL35)"/>
<polygon points="143.63,246.33 146.87,246.44 161.87,193.74 158.63,193.63" fill="url(#gL36)"/>
<polygon points="146.36,246.42 149.60,246.53 164.60,193.83 161.36,193.72" fill="url(#gL37)"/>
<polygon points="149.09,246.51 152.33,246.61 167.33,193.91 164.09,193.81" fill="url(#gL38)"/>
<polygon points="151.82,246.60 155.06,246.70 170.06,194.00 166.82,193.90" fill="url(#gL39)"/>
<polygon points="154.55,246.68 157.79,246.79 172.79,194.09 169.55,193.98" fill="url(#gL40)"/>
<polygon points="157.28,246.77 160.52,246.87 175.52,194.17 172.28,194.07" fill="url(#gL41)"/>
<polygon points="160.01,246.86 163.25,246.96 178.25,194.26 175.01,194.16" fill="url(#gL42)"/>
<polygon points="162.74,246.95 165.98,247.05 180.98,194.35 177.74,194.25" fill="url(#gL43)"/>
<polygon points="165.47,247.03 168.72,247.14 183.72,194.44 180.47,194.33" fill="url(#gL44)"/>
<polygon points="168.20,247.12 171.45,247.22 186.45,194.52 183.20,194.42" fill="url(#gL45)"/>
<polygon points="170.93,247.21 174.18,247.31 189.18,194.61 185.93,194.51" fill="url(#gL46)"/>
<polygon points="173.66,247.29 176.91,247.40 191.91,194.70 188.66,194.59" fill="url(#gL47)"/>
<polygon points="176.39,247.38 179.64,247.49 194.64,194.79 191.39,194.68" fill="url(#gL48)"/>
<polygon points="179.12,247.47 182.37,247.57 197.37,194.87 194.12,194.77" fill="url(#gL49)"/>
<polygon points="181.85,247.56 185.10,247.66 200.10,194.96 196.85,194.86" fill="url(#gL50)"/>
<polygon points="184.58,247.64 187.83,247.75 202.83,195.05 199.58,194.94" fill="url(#gL51)"/>
<polygon points="187.31,247.73 190.56,247.84 205.56,195.14 202.31,195.03" fill="url(#gL52)"/>
<polygon points="190.04,247.82 193.29,247.92 208.29,195.22 205.04,195.12" fill="url(#gL53)"/>
<polygon points="192.77,247.91 196.02,248.01 211.02,195.31 207.77,195.21" fill="url(#gL54)"/>
<polygon points="195.50,247.99 198.75,248.10 213.75,195.40 210.50,195.29" fill="url(#gL55)"/>
<polygon points="198.23,248.08 201.48,248.18 216.48,195.48 213.23,195.38" fill="url(#gL56)"/>
<polygon points="200.96,248.17 204.21,248.27 219.21,195.57 215.96,195.47" fill="url(#gL57)"/>
<polygon points="203.69,248.26 206.94,248.36 221.94,195.66 218.69,195.56" fill="url(#gL58)"/>
<polygon points="206.42,248.34 209.67,248.45 224.67,195.75 221.42,195.64" fill="url(#gL59)"/>
<polygon points="209.15,248.43 212.40,248.53 227.40,195.83 224.15,195.73" fill="url(#gL60)"/>
<polygon points="211.88,248.52 215.13,248.62 230.13,195.92 226.88,195.82" fill="url(#gL61)"/>
<polygon points="214.61,248.60 217.60,248.70 232.60,196.00 229.61,195.90" fill="url(#gL62)"/>
<g clip-path="url(#cgL)">
<line x1="45.6" y1="243.2" x2="60.6" y2="190.5" stroke="#000" stroke-width="0.9" stroke-opacity="0.45"/>
<line x1="48.33" y1="243.29" x2="63.33" y2="190.59" stroke="#000" stroke-width="0.9" stroke-opacity="0.45"/>
<line x1="51.06" y1="243.37" x2="66.06" y2="190.67" stroke="#000" stroke-width="0.9" stroke-opacity="0.45"/>
<line x1="53.79" y1="243.46" x2="68.79" y2="190.76" stroke="#000" stroke-width="0.9" stroke-opacity="0.45"/>
<line x1="56.52" y1="243.55" x2="71.52" y2="190.85" stroke="#000" stroke-width="0.9" stroke-opacity="0.45"/>
<line x1="59.25" y1="243.64" x2="74.25" y2="190.94" stroke="#000" stroke-width="0.9" stroke-opacity="0.45"/>
<line x1="61.98" y1="243.72" x2="76.98" y2="191.02" stroke="#000" stroke-width="0.9" stroke-opacity="0.45"/>
<line x1="64.71" y1="243.81" x2="79.71" y2="191.11" stroke="#000" stroke-width="0.9" stroke-opacity="0.45"/>
<line x1="67.44" y1="243.9" x2="82.44" y2="191.2" stroke="#000" stroke-width="0.9" stroke-opacity="0.45"/>
<line x1="70.17" y1="243.99" x2="85.17" y2="191.29" stroke="#000" stroke-width="0.9" stroke-opacity="0.45"/>
<line x1="72.9" y1="244.07" x2="87.9" y2="191.37" stroke="#000" stroke-width="0.9" stroke-opacity="0.45"/>
<line x1="75.63" y1="244.16" x2="90.63" y2="191.46" stroke="#000" stroke-width="0.9" stroke-opacity="0.45"/>
<line x1="78.36" y1="244.25" x2="93.36" y2="191.55" stroke="#000" stroke-width="0.9" stroke-opacity="0.45"/>
<line x1="81.09" y1="244.33" x2="96.09" y2="191.63" stroke="#000" stroke-width="0.9" stroke-opacity="0.45"/>
<line x1="83.82" y1="244.42" x2="98.82" y2="191.72" stroke="#000" stroke-width="0.9" stroke-opacity="0.45"/>
<line x1="86.55" y1="244.51" x2="101.55" y2="191.81" stroke="#000" stroke-width="0.9" stroke-opacity="0.45"/>
<line x1="89.28" y1="244.6" x2="104.28" y2="191.9" stroke="#000" stroke-width="0.9" stroke-opacity="0.45"/>
<line x1="92.01" y1="244.68" x2="107.01" y2="191.98" stroke="#000" stroke-width="0.9" stroke-opacity="0.45"/>
<line x1="94.74" y1="244.77" x2="109.74" y2="192.07" stroke="#000" stroke-width="0.9" stroke-opacity="0.45"/>
<line x1="97.47" y1="244.86" x2="112.47" y2="192.16" stroke="#000" stroke-width="0.9" stroke-opacity="0.45"/>
<line x1="100.2" y1="244.95" x2="115.2" y2="192.25" stroke="#000" stroke-width="0.9" stroke-opacity="0.45"/>
<line x1="102.93" y1="245.03" x2="117.93" y2="192.33" stroke="#000" stroke-width="0.9" stroke-opacity="0.45"/>
<line x1="105.66" y1="245.12" x2="120.66" y2="192.42" stroke="#000" stroke-width="0.9" stroke-opacity="0.45"/>
<line x1="108.39" y1="245.21" x2="123.39" y2="192.51" stroke="#000" stroke-width="0.9" stroke-opacity="0.45"/>
<line x1="111.12" y1="245.3" x2="126.12" y2="192.6" stroke="#000" stroke-width="0.9" stroke-opacity="0.45"/>
<line x1="113.85" y1="245.38" x2="128.85" y2="192.68" stroke="#000" stroke-width="0.9" stroke-opacity="0.45"/>
<line x1="116.58" y1="245.47" x2="131.58" y2="192.77" stroke="#000" stroke-width="0.9" stroke-opacity="0.45"/>
<line x1="119.31" y1="245.56" x2="134.31" y2="192.86" stroke="#000" stroke-width="0.9" stroke-opacity="0.45"/>
<line x1="122.04" y1="245.64" x2="137.04" y2="192.94" stroke="#000" stroke-width="0.9" stroke-opacity="0.45"/>
<line x1="124.77" y1="245.73" x2="139.77" y2="193.03" stroke="#000" stroke-width="0.9" stroke-opacity="0.45"/>
<line x1="127.5" y1="245.82" x2="142.5" y2="193.12" stroke="#000" stroke-width="0.9" stroke-opacity="0.45"/>
<line x1="130.23" y1="245.91" x2="145.23" y2="193.21" stroke="#000" stroke-width="0.9" stroke-opacity="0.45"/>
<line x1="132.97" y1="245.99" x2="147.97" y2="193.29" stroke="#000" stroke-width="0.9" stroke-opacity="0.45"/>
<line x1="135.7" y1="246.08" x2="150.7" y2="193.38" stroke="#000" stroke-width="0.9" stroke-opacity="0.45"/>
<line x1="138.43" y1="246.17" x2="153.43" y2="193.47" stroke="#000" stroke-width="0.9" stroke-opacity="0.45"/>
<line x1="141.16" y1="246.26" x2="156.16" y2="193.56" stroke="#000" stroke-width="0.9" stroke-opacity="0.45"/>
<line x1="143.89" y1="246.34" x2="158.89" y2="193.64" stroke="#000" stroke-width="0.9" stroke-opacity="0.45"/>
<line x1="146.62" y1="246.43" x2="161.62" y2="193.73" stroke="#000" stroke-width="0.9" stroke-opacity="0.45"/>
<line x1="149.35" y1="246.52" x2="164.35" y2="193.82" stroke="#000" stroke-width="0.9" stroke-opacity="0.45"/>
<line x1="152.08" y1="246.6" x2="167.08" y2="193.9" stroke="#000" stroke-width="0.9" stroke-opacity="0.45"/>
<line x1="154.81" y1="246.69" x2="169.81" y2="193.99" stroke="#000" stroke-width="0.9" stroke-opacity="0.45"/>
<line x1="157.54" y1="246.78" x2="172.54" y2="194.08" stroke="#000" stroke-width="0.9" stroke-opacity="0.45"/>
<line x1="160.27" y1="246.87" x2="175.27" y2="194.17" stroke="#000" stroke-width="0.9" stroke-opacity="0.45"/>
<line x1="163" y1="246.95" x2="178" y2="194.25" stroke="#000" stroke-width="0.9" stroke-opacity="0.45"/>
<line x1="165.73" y1="247.04" x2="180.73" y2="194.34" stroke="#000" stroke-width="0.9" stroke-opacity="0.45"/>
<line x1="168.46" y1="247.13" x2="183.46" y2="194.43" stroke="#000" stroke-width="0.9" stroke-opacity="0.45"/>
<line x1="171.19" y1="247.22" x2="186.19" y2="194.52" stroke="#000" stroke-width="0.9" stroke-opacity="0.45"/>
<line x1="173.92" y1="247.3" x2="188.92" y2="194.6" stroke="#000" stroke-width="0.9" stroke-opacity="0.45"/>
<line x1="176.65" y1="247.39" x2="191.65" y2="194.69" stroke="#000" stroke-width="0.9" stroke-opacity="0.45"/>
<line x1="179.38" y1="247.48" x2="194.38" y2="194.78" stroke="#000" stroke-width="0.9" stroke-opacity="0.45"/>
<line x1="182.11" y1="247.57" x2="197.11" y2="194.87" stroke="#000" stroke-width="0.9" stroke-opacity="0.45"/>
<line x1="184.84" y1="247.65" x2="199.84" y2="194.95" stroke="#000" stroke-width="0.9" stroke-opacity="0.45"/>
<line x1="187.57" y1="247.74" x2="202.57" y2="195.04" stroke="#000" stroke-width="0.9" stroke-opacity="0.45"/>
<line x1="190.3" y1="247.83" x2="205.3" y2="195.13" stroke="#000" stroke-width="0.9" stroke-opacity="0.45"/>
<line x1="193.03" y1="247.91" x2="208.03" y2="195.21" stroke="#000" stroke-width="0.9" stroke-opacity="0.45"/>
<line x1="195.76" y1="248" x2="210.76" y2="195.3" stroke="#000" stroke-width="0.9" stroke-opacity="0.45"/>
<line x1="198.49" y1="248.09" x2="213.49" y2="195.39" stroke="#000" stroke-width="0.9" stroke-opacity="0.45"/>
<line x1="201.22" y1="248.18" x2="216.22" y2="195.48" stroke="#000" stroke-width="0.9" stroke-opacity="0.45"/>
<line x1="203.95" y1="248.26" x2="218.95" y2="195.56" stroke="#000" stroke-width="0.9" stroke-opacity="0.45"/>
<line x1="206.68" y1="248.35" x2="221.68" y2="195.65" stroke="#000" stroke-width="0.9" stroke-opacity="0.45"/>
<line x1="209.41" y1="248.44" x2="224.41" y2="195.74" stroke="#000" stroke-width="0.9" stroke-opacity="0.45"/>
<line x1="212.14" y1="248.53" x2="227.14" y2="195.83" stroke="#000" stroke-width="0.9" stroke-opacity="0.45"/>
<line x1="214.87" y1="248.61" x2="229.87" y2="195.91" stroke="#000" stroke-width="0.9" stroke-opacity="0.45"/>
<line x1="217.6" y1="248.7" x2="232.6" y2="196" stroke="#000" stroke-width="0.9" stroke-opacity="0.45"/>
<line x1="45.6" y1="243.2" x2="217.6" y2="248.7" stroke="#000" stroke-width="0.6" stroke-opacity="0.3"/>
<line x1="46.35" y1="240.56" x2="218.35" y2="246.06" stroke="#000" stroke-width="0.6" stroke-opacity="0.3"/>
<line x1="47.1" y1="237.93" x2="219.1" y2="243.43" stroke="#000" stroke-width="0.6" stroke-opacity="0.3"/>
<line x1="47.85" y1="235.29" x2="219.85" y2="240.79" stroke="#000" stroke-width="0.6" stroke-opacity="0.3"/>
<line x1="48.6" y1="232.66" x2="220.6" y2="238.16" stroke="#000" stroke-width="0.6" stroke-opacity="0.3"/>
<line x1="49.35" y1="230.02" x2="221.35" y2="235.52" stroke="#000" stroke-width="0.6" stroke-opacity="0.3"/>
<line x1="50.1" y1="227.39" x2="222.1" y2="232.89" stroke="#000" stroke-width="0.6" stroke-opacity="0.3"/>
<line x1="50.85" y1="224.75" x2="222.85" y2="230.25" stroke="#000" stroke-width="0.6" stroke-opacity="0.3"/>
<line x1="51.6" y1="222.12" x2="223.6" y2="227.62" stroke="#000" stroke-width="0.6" stroke-opacity="0.3"/>
<line x1="52.35" y1="219.48" x2="224.35" y2="224.98" stroke="#000" stroke-width="0.6" stroke-opacity="0.3"/>
<line x1="53.1" y1="216.85" x2="225.1" y2="222.35" stroke="#000" stroke-width="0.6" stroke-opacity="0.3"/>
<line x1="53.85" y1="214.22" x2="225.85" y2="219.72" stroke="#000" stroke-width="0.6" stroke-opacity="0.3"/>
<line x1="54.6" y1="211.58" x2="226.6" y2="217.08" stroke="#000" stroke-width="0.6" stroke-opacity="0.3"/>
<line x1="55.35" y1="208.94" x2="227.35" y2="214.44" stroke="#000" stroke-width="0.6" stroke-opacity="0.3"/>
<line x1="56.1" y1="206.31" x2="228.1" y2="211.81" stroke="#000" stroke-width="0.6" stroke-opacity="0.3"/>
<line x1="56.85" y1="203.68" x2="228.85" y2="209.18" stroke="#000" stroke-width="0.6" stroke-opacity="0.3"/>
<line x1="57.6" y1="201.04" x2="229.6" y2="206.54" stroke="#000" stroke-width="0.6" stroke-opacity="0.3"/>
<line x1="58.35" y1="198.41" x2="230.35" y2="203.91" stroke="#000" stroke-width="0.6" stroke-opacity="0.3"/>
<line x1="59.1" y1="195.77" x2="231.1" y2="201.27" stroke="#000" stroke-width="0.6" stroke-opacity="0.3"/>
<line x1="59.85" y1="193.13" x2="231.85" y2="198.63" stroke="#000" stroke-width="0.6" stroke-opacity="0.3"/>
<line x1="60.6" y1="190.5" x2="232.6" y2="196" stroke="#000" stroke-width="0.6" stroke-opacity="0.3"/>
</g>
<circle cx="45.60" cy="243.20" r="1.3" fill="#0000ff"/>
<circle cx="47.10" cy="237.93" r="1.3" fill="#0000ff"/>
<circle cx="48.60" cy="232.66" r="1.3" fill="#0000ff"/>
<circle cx="50.10" cy="227.39" r="1.3" fill="#0000ff"/>
<circle cx="51.60" cy="222.12" r="1.3" fill="#0000ff"/>
<circle cx="53.10" cy="216.85" r="1.3" fill="#0000ff"/>
<circle cx="54.60" cy="211.58" r="1.3" fill="#0000ff"/>
<circle cx="56.10" cy="206.31" r="1.3" fill="#0000ff"/>
<circle cx="57.60" cy="201.04" r="1.3" fill="#0000ff"/>
<circle cx="59.10" cy="195.77" r="1.3" fill="#0000ff"/>
<circle cx="60.60" cy="190.50" r="1.3" fill="#0000ff"/>
<circle cx="88.60" cy="244.57" r="1.3" fill="#0000ff"/>
<circle cx="90.10" cy="239.30" r="1.3" fill="#0000ff"/>
<circle cx="91.60" cy="234.03" r="1.3" fill="#0000ff"/>
<circle cx="93.10" cy="228.76" r="1.3" fill="#0000ff"/>
<circle cx="94.60" cy="223.50" r="1.3" fill="#0000ff"/>
<circle cx="96.10" cy="218.22" r="1.3" fill="#0000ff"/>
<circle cx="97.60" cy="212.95" r="1.3" fill="#0000ff"/>
<circle cx="99.10" cy="207.69" r="1.3" fill="#0000ff"/>
<circle cx="100.60" cy="202.41" r="1.3" fill="#0000ff"/>
<circle cx="102.10" cy="197.14" r="1.3" fill="#0000ff"/>
<circle cx="103.60" cy="191.88" r="1.3" fill="#0000ff"/>
<circle cx="131.60" cy="245.95" r="1.3" fill="#0000ff"/>
<circle cx="133.10" cy="240.68" r="1.3" fill="#0000ff"/>
<circle cx="134.60" cy="235.41" r="1.3" fill="#0000ff"/>
<circle cx="136.10" cy="230.14" r="1.3" fill="#0000ff"/>
<circle cx="137.60" cy="224.87" r="1.3" fill="#0000ff"/>
<circle cx="139.10" cy="219.60" r="1.3" fill="#0000ff"/>
<circle cx="140.60" cy="214.33" r="1.3" fill="#0000ff"/>
<circle cx="142.10" cy="209.06" r="1.3" fill="#0000ff"/>
<circle cx="143.60" cy="203.79" r="1.3" fill="#0000ff"/>
<circle cx="145.10" cy="198.52" r="1.3" fill="#0000ff"/>
<circle cx="146.60" cy="193.25" r="1.3" fill="#0000ff"/>
<circle cx="174.60" cy="247.32" r="1.3" fill="#0000ff"/>
<circle cx="176.10" cy="242.05" r="1.3" fill="#0000ff"/>
<circle cx="177.60" cy="236.78" r="1.3" fill="#0000ff"/>
<circle cx="179.10" cy="231.51" r="1.3" fill="#0000ff"/>
<circle cx="180.60" cy="226.25" r="1.3" fill="#0000ff"/>
<circle cx="182.10" cy="220.97" r="1.3" fill="#0000ff"/>
<circle cx="183.60" cy="215.70" r="1.3" fill="#0000ff"/>
<circle cx="185.10" cy="210.44" r="1.3" fill="#0000ff"/>
<circle cx="186.60" cy="205.16" r="1.3" fill="#0000ff"/>
<circle cx="188.10" cy="199.89" r="1.3" fill="#0000ff"/>
<circle cx="189.60" cy="194.62" r="1.3" fill="#0000ff"/>
<circle cx="217.60" cy="248.70" r="1.3" fill="#0000ff"/>
<circle cx="219.10" cy="243.43" r="1.3" fill="#0000ff"/>
<circle cx="220.60" cy="238.16" r="1.3" fill="#0000ff"/>
<circle cx="222.10" cy="232.89" r="1.3" fill="#0000ff"/>
<circle cx="223.60" cy="227.62" r="1.3" fill="#0000ff"/>
<circle cx="225.10" cy="222.35" r="1.3" fill="#0000ff"/>
<circle cx="226.60" cy="217.08" r="1.3" fill="#0000ff"/>
<circle cx="228.10" cy="211.81" r="1.3" fill="#0000ff"/>
<circle cx="229.60" cy="206.54" r="1.3" fill="#0000ff"/>
<circle cx="231.10" cy="201.27" r="1.3" fill="#0000ff"/>
<circle cx="232.60" cy="196.00" r="1.3" fill="#0000ff"/>
<line x1="41.1" y1="250.7" x2="45.9" y2="250.7" stroke="#a8a8a8" stroke-width="0.8"/>
<line x1="41.1" y1="233.3" x2="45.9" y2="233.3" stroke="#a8a8a8" stroke-width="0.8"/>
<line x1="41.1" y1="215.9" x2="45.9" y2="215.9" stroke="#a8a8a8" stroke-width="0.8"/>
<line x1="41.1" y1="198.5" x2="45.9" y2="198.5" stroke="#a8a8a8" stroke-width="0.8"/>
<line x1="41.1" y1="181.1" x2="45.9" y2="181.1" stroke="#a8a8a8" stroke-width="0.8"/>
<line x1="41.1" y1="163.7" x2="45.9" y2="163.7" stroke="#a8a8a8" stroke-width="0.8"/>
<line x1="41.1" y1="146.3" x2="45.9" y2="146.3" stroke="#a8a8a8" stroke-width="0.8"/>
<line x1="41.1" y1="128.9" x2="45.9" y2="128.9" stroke="#a8a8a8" stroke-width="0.8"/>
<line x1="41.1" y1="111.5" x2="45.9" y2="111.5" stroke="#a8a8a8" stroke-width="0.8"/>
<line x1="41.1" y1="94.1" x2="45.9" y2="94.1" stroke="#a8a8a8" stroke-width="0.8"/>
<line x1="41.1" y1="76.7" x2="45.9" y2="76.7" stroke="#a8a8a8" stroke-width="0.8"/>
<line x1="41.1" y1="59.3" x2="45.9" y2="59.3" stroke="#a8a8a8" stroke-width="0.8"/>
<line x1="70" y1="251.29" x2="68.75" y2="255.69" stroke="#a8a8a8" stroke-width="0.8"/>
<line x1="103.8" y1="252.11" x2="102.55" y2="256.51" stroke="#a8a8a8" stroke-width="0.8"/>
<line x1="137.7" y1="252.94" x2="136.45" y2="257.34" stroke="#a8a8a8" stroke-width="0.8"/>
<line x1="171.7" y1="253.77" x2="170.45" y2="258.17" stroke="#a8a8a8" stroke-width="0.8"/>
<line x1="205.7" y1="254.6" x2="204.45" y2="259" stroke="#a8a8a8" stroke-width="0.8"/>
<line x1="218.37" y1="253.29" x2="222.77" y2="253.39" stroke="#a8a8a8" stroke-width="0.8"/>
<line x1="222.13" y1="240.28" x2="226.53" y2="240.38" stroke="#a8a8a8" stroke-width="0.8"/>
<line x1="225.9" y1="227.28" x2="230.3" y2="227.38" stroke="#a8a8a8" stroke-width="0.8"/>
<line x1="229.67" y1="214.28" x2="234.07" y2="214.38" stroke="#a8a8a8" stroke-width="0.8"/>
<text x="38.30" y="253.60" font-family="Liberation Sans, sans-serif" font-size="6.5" fill="#262626" text-anchor="end">0</text>
<text x="38.30" y="236.20" font-family="Liberation Sans, sans-serif" font-size="6.5" fill="#262626" text-anchor="end">100</text>
<text x="38.30" y="218.80" font-family="Liberation Sans, sans-serif" font-size="6.5" fill="#262626" text-anchor="end">200</text>
<text x="38.30" y="201.40" font-family="Liberation Sans, sans-serif" font-size="6.5" fill="#262626" text-anchor="end">300</text>
<text x="38.30" y="184.00" font-family="Liberation Sans, sans-serif" font-size="6.5" fill="#262626" text-anchor="end">400</text>
<text x="38.30" y="166.60" font-family="Liberation Sans, sans-serif" font-size="6.5" fill="#262626" text-anchor="end">500</text>
<text x="38.30" y="149.20" font-family="Liberation Sans, sans-serif" font-size="6.5" fill="#262626" text-anchor="end">600</text>
<text x="38.30" y="131.80" font-family="Liberation Sans, sans-serif" font-size="6.5" fill="#262626" text-anchor="end">700</text>
<text x="38.30" y="114.40" font-family="Liberation Sans, sans-serif" font-size="6.5" fill="#262626" text-anchor="end">800</text>
<text x="38.30" y="97.00" font-family="Liberation Sans, sans-serif" font-size="6.5" fill="#262626" text-anchor="end">900</text>
<text x="38.30" y="79.60" font-family="Liberation Sans, sans-serif" font-size="6.5" fill="#262626" text-anchor="end">1000</text>
<text x="38.30" y="62.20" font-family="Liberation Sans, sans-serif" font-size="6.5" fill="#262626" text-anchor="end">1100</text>
<text x="67.80" y="265.89" font-family="Liberation Sans, sans-serif" font-size="6.5" fill="#262626" text-anchor="middle">5.4</text>
<text x="101.60" y="266.71" font-family="Liberation Sans, sans-serif" font-size="6.5" fill="#262626" text-anchor="middle">5.2</text>
<text x="135.50" y="267.54" font-family="Liberation Sans, sans-serif" font-size="6.5" fill="#262626" text-anchor="middle">5</text>
<text x="169.50" y="268.37" font-family="Liberation Sans, sans-serif" font-size="6.5" fill="#262626" text-anchor="middle">4.8</text>
<text x="203.50" y="269.20" font-family="Liberation Sans, sans-serif" font-size="6.5" fill="#262626" text-anchor="middle">4.6</text>
<text x="225.37" y="260.89" font-family="Liberation Sans, sans-serif" font-size="6.5" fill="#262626">0.036</text>
<text x="229.13" y="247.88" font-family="Liberation Sans, sans-serif" font-size="6.5" fill="#262626">0.038</text>
<text x="232.90" y="234.88" font-family="Liberation Sans, sans-serif" font-size="6.5" fill="#262626">0.04</text>
<text x="236.67" y="221.88" font-family="Liberation Sans, sans-serif" font-size="6.5" fill="#262626">0.042</text>
<text x="72.30" y="287.5" font-family="Liberation Sans, sans-serif" font-size="9.0" fill="#262626" xml:space="preserve"><tspan font-style="italic">q</tspan><tspan font-size="7.20" dx="1.6" dy="4.5">titer,max</tspan><tspan dy="-4.5" dx="2.6">[1 · 10</tspan><tspan font-size="6.6" dy="-3.6">-10</tspan><tspan dy="3.6"> mg cell</tspan><tspan font-size="6.6" dy="-3.6">-1</tspan><tspan dy="3.6">h</tspan><tspan font-size="6.6" dy="-3.6">-1</tspan><tspan dy="3.6">]</tspan></text>
<text transform="translate(263.20,256.50) rotate(-90)" font-family="Liberation Sans, sans-serif" font-size="9.0" fill="#262626" xml:space="preserve"><tspan font-style="italic">μ</tspan><tspan font-size="7.00" dy="4.2" dx="0.8">max</tspan><tspan dy="-4.2"> [h</tspan><tspan font-size="7.00" dy="-3.4">-1</tspan><tspan dy="3.4">]</tspan></text>
<text transform="translate(15.70,221.00) rotate(-90)" font-family="Liberation Sans, sans-serif" font-size="10.0" fill="#262626" xml:space="preserve">Volumetric titer  <tspan font-style="italic">c</tspan><tspan font-size="8.80" dy="4.6" dx="2">titer</tspan><tspan dy="-4.6"> [mg L</tspan><tspan font-size="7.2" dy="-4.0">-1</tspan><tspan dy="4.0">]</tspan></text>
<line x1="362.58" y1="200.89" x2="362.58" y2="9.49" stroke="#eeeeee" stroke-width="0.7"/>
<line x1="348" y1="251.29" x2="362.58" y2="200.89" stroke="#eeeeee" stroke-width="0.7"/>
<line x1="396.98" y1="201.73" x2="396.98" y2="10.33" stroke="#eeeeee" stroke-width="0.7"/>
<line x1="381.8" y1="252.11" x2="396.98" y2="201.73" stroke="#eeeeee" stroke-width="0.7"/>
<line x1="431.38" y1="202.57" x2="431.38" y2="11.17" stroke="#eeeeee" stroke-width="0.7"/>
<line x1="415.7" y1="252.94" x2="431.38" y2="202.57" stroke="#eeeeee" stroke-width="0.7"/>
<line x1="465.78" y1="203.41" x2="465.78" y2="12.01" stroke="#eeeeee" stroke-width="0.7"/>
<line x1="449.7" y1="253.77" x2="465.78" y2="203.41" stroke="#eeeeee" stroke-width="0.7"/>
<line x1="500.18" y1="204.25" x2="500.18" y2="12.85" stroke="#eeeeee" stroke-width="0.7"/>
<line x1="483.7" y1="254.6" x2="500.18" y2="204.25" stroke="#eeeeee" stroke-width="0.7"/>
<line x1="338.5" y1="200.3" x2="510.5" y2="204.5" stroke="#eeeeee" stroke-width="0.7"/>
<line x1="323.9" y1="250.7" x2="338.5" y2="200.3" stroke="#eeeeee" stroke-width="0.7"/>
<line x1="338.5" y1="162.02" x2="510.5" y2="166.22" stroke="#eeeeee" stroke-width="0.7"/>
<line x1="323.9" y1="212.42" x2="338.5" y2="162.02" stroke="#eeeeee" stroke-width="0.7"/>
<line x1="338.5" y1="123.74" x2="510.5" y2="127.94" stroke="#eeeeee" stroke-width="0.7"/>
<line x1="323.9" y1="174.14" x2="338.5" y2="123.74" stroke="#eeeeee" stroke-width="0.7"/>
<line x1="338.5" y1="85.46" x2="510.5" y2="89.66" stroke="#eeeeee" stroke-width="0.7"/>
<line x1="323.9" y1="135.86" x2="338.5" y2="85.46" stroke="#eeeeee" stroke-width="0.7"/>
<line x1="338.5" y1="47.18" x2="510.5" y2="51.38" stroke="#eeeeee" stroke-width="0.7"/>
<line x1="323.9" y1="97.58" x2="338.5" y2="47.18" stroke="#eeeeee" stroke-width="0.7"/>
<line x1="338.5" y1="8.9" x2="510.5" y2="13.1" stroke="#eeeeee" stroke-width="0.7"/>
<line x1="323.9" y1="59.3" x2="338.5" y2="8.9" stroke="#eeeeee" stroke-width="0.7"/>
<line x1="324.37" y1="249.09" x2="324.37" y2="57.69" stroke="#eeeeee" stroke-width="0.7"/>
<line x1="324.37" y1="249.09" x2="496.37" y2="253.29" stroke="#eeeeee" stroke-width="0.7"/>
<line x1="328.13" y1="236.08" x2="328.13" y2="44.68" stroke="#eeeeee" stroke-width="0.7"/>
<line x1="328.13" y1="236.08" x2="500.13" y2="240.28" stroke="#eeeeee" stroke-width="0.7"/>
<line x1="331.9" y1="223.08" x2="331.9" y2="31.68" stroke="#eeeeee" stroke-width="0.7"/>
<line x1="331.9" y1="223.08" x2="503.9" y2="227.28" stroke="#eeeeee" stroke-width="0.7"/>
<line x1="335.67" y1="210.08" x2="335.67" y2="18.68" stroke="#eeeeee" stroke-width="0.7"/>
<line x1="335.67" y1="210.08" x2="507.67" y2="214.28" stroke="#eeeeee" stroke-width="0.7"/>
<line x1="338.5" y1="8.9" x2="510.5" y2="13.1" stroke="#a8a8a8" stroke-width="0.8"/>
<line x1="338.5" y1="200.3" x2="338.5" y2="8.9" stroke="#a8a8a8" stroke-width="0.8"/>
<line x1="510.5" y1="204.5" x2="510.5" y2="13.1" stroke="#a8a8a8" stroke-width="0.8"/>
<line x1="323.9" y1="59.3" x2="338.5" y2="8.9" stroke="#a8a8a8" stroke-width="0.8"/>
<line x1="323.9" y1="250.7" x2="323.9" y2="59.3" stroke="#a8a8a8" stroke-width="0.8"/>
<line x1="323.9" y1="250.7" x2="495.9" y2="254.9" stroke="#a8a8a8" stroke-width="0.8"/>
<line x1="495.9" y1="254.9" x2="510.5" y2="204.5" stroke="#a8a8a8" stroke-width="0.8"/>
<line x1="323.9" y1="250.7" x2="338.5" y2="200.3" stroke="#a8a8a8" stroke-width="0.8"/>
<line x1="338.5" y1="200.3" x2="510.5" y2="204.5" stroke="#a8a8a8" stroke-width="0.8"/>
<defs><linearGradient id="gR0" gradientUnits="userSpaceOnUse" x1="324.96" y1="242.35" x2="339.97" y2="187.75"><stop offset="0.000" stop-color="#2182ca"/><stop offset="0.167" stop-color="#0b9ab6"/><stop offset="0.333" stop-color="#21a794"/><stop offset="0.500" stop-color="#49af6a"/><stop offset="0.667" stop-color="#86ad3a"/><stop offset="0.833" stop-color="#b9a322"/><stop offset="1.000" stop-color="#daa334"/></linearGradient><linearGradient id="gR1" gradientUnits="userSpaceOnUse" x1="327.69" y1="242.45" x2="342.70" y2="187.85"><stop offset="0.000" stop-color="#2380cb"/><stop offset="0.167" stop-color="#0f98b8"/><stop offset="0.333" stop-color="#1ea697"/><stop offset="0.500" stop-color="#44af6e"/><stop offset="0.667" stop-color="#82ad3e"/><stop offset="0.833" stop-color="#b7a422"/><stop offset="1.000" stop-color="#d9a234"/></linearGradient><linearGradient id="gR2" gradientUnits="userSpaceOnUse" x1="330.42" y1="242.55" x2="345.43" y2="187.96"><stop offset="0.000" stop-color="#247ecd"/><stop offset="0.167" stop-color="#1297ba"/><stop offset="0.333" stop-color="#19a59a"/><stop offset="0.500" stop-color="#3faf72"/><stop offset="0.667" stop-color="#7dae41"/><stop offset="0.833" stop-color="#b4a422"/><stop offset="1.000" stop-color="#d8a234"/></linearGradient><linearGradient id="gR3" gradientUnits="userSpaceOnUse" x1="333.14" y1="242.64" x2="348.16" y2="188.06"><stop offset="0.000" stop-color="#257cce"/><stop offset="0.167" stop-color="#1595bd"/><stop offset="0.333" stop-color="#14a49d"/><stop offset="0.500" stop-color="#3bae76"/><stop offset="0.667" stop-color="#79ae45"/><stop offset="0.833" stop-color="#b1a522"/><stop offset="1.000" stop-color="#d7a134"/></linearGradient><linearGradient id="gR4" gradientUnits="userSpaceOnUse" x1="335.87" y1="242.74" x2="350.89" y2="188.16"><stop offset="0.000" stop-color="#267ad0"/><stop offset="0.167" stop-color="#1793be"/><stop offset="0.333" stop-color="#0fa3a0"/><stop offset="0.500" stop-color="#37ae79"/><stop offset="0.667" stop-color="#74af48"/><stop offset="0.833" stop-color="#aea623"/><stop offset="1.000" stop-color="#d6a134"/></linearGradient><linearGradient id="gR5" gradientUnits="userSpaceOnUse" x1="338.60" y1="242.84" x2="353.62" y2="188.27"><stop offset="0.000" stop-color="#2778d2"/><stop offset="0.167" stop-color="#1892c0"/><stop offset="0.333" stop-color="#09a2a2"/><stop offset="0.500" stop-color="#34ad7d"/><stop offset="0.667" stop-color="#6faf4c"/><stop offset="0.833" stop-color="#aca624"/><stop offset="1.000" stop-color="#d6a034"/></linearGradient><linearGradient id="gR6" gradientUnits="userSpaceOnUse" x1="341.33" y1="242.94" x2="356.35" y2="188.37"><stop offset="0.000" stop-color="#2775d3"/><stop offset="0.167" stop-color="#1a90c1"/><stop offset="0.333" stop-color="#05a1a5"/><stop offset="0.500" stop-color="#31ac80"/><stop offset="0.667" stop-color="#6ab04f"/><stop offset="0.833" stop-color="#a9a725"/><stop offset="1.000" stop-color="#d4a034"/></linearGradient><linearGradient id="gR7" gradientUnits="userSpaceOnUse" x1="344.05" y1="243.04" x2="359.08" y2="188.47"><stop offset="0.000" stop-color="#2773d5"/><stop offset="0.167" stop-color="#1b8ec3"/><stop offset="0.333" stop-color="#01a0a8"/><stop offset="0.500" stop-color="#2eac84"/><stop offset="0.667" stop-color="#66b053"/><stop offset="0.833" stop-color="#a6a726"/><stop offset="1.000" stop-color="#d3a033"/></linearGradient><linearGradient id="gR8" gradientUnits="userSpaceOnUse" x1="346.78" y1="243.14" x2="361.81" y2="188.58"><stop offset="0.000" stop-color="#2871d6"/><stop offset="0.167" stop-color="#1d8cc4"/><stop offset="0.333" stop-color="#019fab"/><stop offset="0.500" stop-color="#2cab87"/><stop offset="0.667" stop-color="#61b056"/><stop offset="0.833" stop-color="#a3a828"/><stop offset="1.000" stop-color="#d2a032"/></linearGradient><linearGradient id="gR9" gradientUnits="userSpaceOnUse" x1="349.51" y1="243.23" x2="364.54" y2="188.68"><stop offset="0.000" stop-color="#296fd7"/><stop offset="0.167" stop-color="#1e8ac5"/><stop offset="0.333" stop-color="#019ead"/><stop offset="0.500" stop-color="#2aaa8a"/><stop offset="0.667" stop-color="#5cb05a"/><stop offset="0.833" stop-color="#9fa92a"/><stop offset="1.000" stop-color="#d1a031"/></linearGradient><linearGradient id="gR10" gradientUnits="userSpaceOnUse" x1="352.23" y1="243.33" x2="367.27" y2="188.78"><stop offset="0.000" stop-color="#2a6cd8"/><stop offset="0.167" stop-color="#1f88c6"/><stop offset="0.333" stop-color="#039db0"/><stop offset="0.500" stop-color="#28a98d"/><stop offset="0.667" stop-color="#58b05e"/><stop offset="0.833" stop-color="#9ca92b"/><stop offset="1.000" stop-color="#d0a030"/></linearGradient><linearGradient id="gR11" gradientUnits="userSpaceOnUse" x1="354.96" y1="243.43" x2="370.00" y2="188.89"><stop offset="0.000" stop-color="#2c6ad9"/><stop offset="0.167" stop-color="#2086c7"/><stop offset="0.333" stop-color="#069cb3"/><stop offset="0.500" stop-color="#26a890"/><stop offset="0.667" stop-color="#54b061"/><stop offset="0.833" stop-color="#99aa2d"/><stop offset="1.000" stop-color="#cfa02f"/></linearGradient><linearGradient id="gR12" gradientUnits="userSpaceOnUse" x1="357.69" y1="243.53" x2="372.73" y2="188.99"><stop offset="0.000" stop-color="#2e67da"/><stop offset="0.167" stop-color="#2184c8"/><stop offset="0.333" stop-color="#0a9ab5"/><stop offset="0.500" stop-color="#23a793"/><stop offset="0.667" stop-color="#4fb065"/><stop offset="0.833" stop-color="#96aa2f"/><stop offset="1.000" stop-color="#cda02d"/></linearGradient><linearGradient id="gR13" gradientUnits="userSpaceOnUse" x1="360.41" y1="243.63" x2="375.46" y2="189.09"><stop offset="0.000" stop-color="#3165db"/><stop offset="0.167" stop-color="#2282ca"/><stop offset="0.333" stop-color="#0e99b7"/><stop offset="0.500" stop-color="#20a795"/><stop offset="0.667" stop-color="#4bb068"/><stop offset="0.833" stop-color="#93ab31"/><stop offset="1.000" stop-color="#cca02c"/></linearGradient><linearGradient id="gR14" gradientUnits="userSpaceOnUse" x1="363.14" y1="243.73" x2="378.19" y2="189.20"><stop offset="0.000" stop-color="#3362db"/><stop offset="0.167" stop-color="#2380cb"/><stop offset="0.333" stop-color="#1197ba"/><stop offset="0.500" stop-color="#1ca698"/><stop offset="0.667" stop-color="#47af6c"/><stop offset="0.833" stop-color="#8fac34"/><stop offset="1.000" stop-color="#cba02b"/></linearGradient><linearGradient id="gR15" gradientUnits="userSpaceOnUse" x1="365.87" y1="243.83" x2="380.92" y2="189.30"><stop offset="0.000" stop-color="#365fdb"/><stop offset="0.167" stop-color="#257dcd"/><stop offset="0.333" stop-color="#1496bc"/><stop offset="0.500" stop-color="#17a59b"/><stop offset="0.667" stop-color="#43af6f"/><stop offset="0.833" stop-color="#8cac36"/><stop offset="1.000" stop-color="#caa02a"/></linearGradient><linearGradient id="gR16" gradientUnits="userSpaceOnUse" x1="368.60" y1="243.92" x2="383.65" y2="189.40"><stop offset="0.000" stop-color="#375ddb"/><stop offset="0.167" stop-color="#267cce"/><stop offset="0.333" stop-color="#1694bd"/><stop offset="0.500" stop-color="#14a49d"/><stop offset="0.667" stop-color="#3faf72"/><stop offset="0.833" stop-color="#88ad39"/><stop offset="1.000" stop-color="#c7a128"/></linearGradient><linearGradient id="gR17" gradientUnits="userSpaceOnUse" x1="371.32" y1="244.02" x2="386.38" y2="189.51"><stop offset="0.000" stop-color="#385bda"/><stop offset="0.167" stop-color="#267ad0"/><stop offset="0.333" stop-color="#1793bf"/><stop offset="0.500" stop-color="#0fa39f"/><stop offset="0.667" stop-color="#3cae75"/><stop offset="0.833" stop-color="#84ad3c"/><stop offset="1.000" stop-color="#c5a126"/></linearGradient><linearGradient id="gR18" gradientUnits="userSpaceOnUse" x1="374.05" y1="244.12" x2="389.11" y2="189.61"><stop offset="0.000" stop-color="#3a59da"/><stop offset="0.167" stop-color="#2778d1"/><stop offset="0.333" stop-color="#1892c0"/><stop offset="0.500" stop-color="#0ba3a1"/><stop offset="0.667" stop-color="#39ae78"/><stop offset="0.833" stop-color="#80ae3f"/><stop offset="1.000" stop-color="#c2a225"/></linearGradient><linearGradient id="gR19" gradientUnits="userSpaceOnUse" x1="376.78" y1="244.22" x2="391.84" y2="189.71"><stop offset="0.000" stop-color="#3a57da"/><stop offset="0.167" stop-color="#2776d3"/><stop offset="0.333" stop-color="#1990c1"/><stop offset="0.500" stop-color="#08a2a3"/><stop offset="0.667" stop-color="#36ae7b"/><stop offset="0.833" stop-color="#7cae42"/><stop offset="1.000" stop-color="#bfa224"/></linearGradient><linearGradient id="gR20" gradientUnits="userSpaceOnUse" x1="379.50" y1="244.32" x2="394.57" y2="189.82"><stop offset="0.000" stop-color="#3b55d9"/><stop offset="0.167" stop-color="#2775d4"/><stop offset="0.333" stop-color="#1b8fc2"/><stop offset="0.500" stop-color="#05a1a6"/><stop offset="0.667" stop-color="#33ad7d"/><stop offset="0.833" stop-color="#78ae45"/><stop offset="1.000" stop-color="#bca323"/></linearGradient><linearGradient id="gR21" gradientUnits="userSpaceOnUse" x1="382.23" y1="244.42" x2="397.30" y2="189.92"><stop offset="0.000" stop-color="#3c53d8"/><stop offset="0.167" stop-color="#2773d5"/><stop offset="0.333" stop-color="#1c8dc3"/><stop offset="0.500" stop-color="#02a0a8"/><stop offset="0.667" stop-color="#31ac80"/><stop offset="0.833" stop-color="#74af49"/><stop offset="1.000" stop-color="#b9a322"/></linearGradient><linearGradient id="gR22" gradientUnits="userSpaceOnUse" x1="384.96" y1="244.51" x2="400.03" y2="190.02"><stop offset="0.000" stop-color="#3c51d8"/><stop offset="0.167" stop-color="#2871d6"/><stop offset="0.333" stop-color="#1d8cc4"/><stop offset="0.500" stop-color="#01a0aa"/><stop offset="0.667" stop-color="#2fac83"/><stop offset="0.833" stop-color="#6faf4c"/><stop offset="1.000" stop-color="#b6a422"/></linearGradient><linearGradient id="gR23" gradientUnits="userSpaceOnUse" x1="387.68" y1="244.61" x2="402.76" y2="190.12"><stop offset="0.000" stop-color="#3d4fd7"/><stop offset="0.167" stop-color="#286fd7"/><stop offset="0.333" stop-color="#1e8ac4"/><stop offset="0.500" stop-color="#019fac"/><stop offset="0.667" stop-color="#2dab85"/><stop offset="0.833" stop-color="#6baf4f"/><stop offset="1.000" stop-color="#b3a522"/></linearGradient><linearGradient id="gR24" gradientUnits="userSpaceOnUse" x1="390.41" y1="244.71" x2="405.49" y2="190.23"><stop offset="0.000" stop-color="#3d4dd6"/><stop offset="0.167" stop-color="#296dd8"/><stop offset="0.333" stop-color="#1f89c5"/><stop offset="0.500" stop-color="#019eae"/><stop offset="0.667" stop-color="#2baa88"/><stop offset="0.833" stop-color="#67b052"/><stop offset="1.000" stop-color="#b0a523"/></linearGradient><linearGradient id="gR25" gradientUnits="userSpaceOnUse" x1="393.14" y1="244.81" x2="408.22" y2="190.33"><stop offset="0.000" stop-color="#3d4bd5"/><stop offset="0.167" stop-color="#2b6bd9"/><stop offset="0.333" stop-color="#1f87c6"/><stop offset="0.500" stop-color="#039db0"/><stop offset="0.667" stop-color="#2aaa8a"/><stop offset="0.833" stop-color="#62b055"/><stop offset="1.000" stop-color="#ada623"/></linearGradient><linearGradient id="gR26" gradientUnits="userSpaceOnUse" x1="395.87" y1="244.91" x2="410.95" y2="190.43"><stop offset="0.000" stop-color="#3d49d4"/><stop offset="0.167" stop-color="#2c69d9"/><stop offset="0.333" stop-color="#2086c7"/><stop offset="0.500" stop-color="#059cb2"/><stop offset="0.667" stop-color="#28a98c"/><stop offset="0.833" stop-color="#5eb058"/><stop offset="1.000" stop-color="#a9a724"/></linearGradient><linearGradient id="gR27" gradientUnits="userSpaceOnUse" x1="398.59" y1="245.01" x2="413.68" y2="190.54"><stop offset="0.000" stop-color="#3e48d3"/><stop offset="0.167" stop-color="#2e67da"/><stop offset="0.333" stop-color="#2184c8"/><stop offset="0.500" stop-color="#079bb4"/><stop offset="0.667" stop-color="#26a88f"/><stop offset="0.833" stop-color="#5ab05c"/><stop offset="1.000" stop-color="#a6a726"/></linearGradient><linearGradient id="gR28" gradientUnits="userSpaceOnUse" x1="401.32" y1="245.10" x2="416.41" y2="190.64"><stop offset="0.000" stop-color="#3e46d1"/><stop offset="0.167" stop-color="#3065db"/><stop offset="0.333" stop-color="#2183c9"/><stop offset="0.500" stop-color="#0a9ab5"/><stop offset="0.667" stop-color="#24a891"/><stop offset="0.833" stop-color="#56b05f"/><stop offset="1.000" stop-color="#a2a828"/></linearGradient><linearGradient id="gR29" gradientUnits="userSpaceOnUse" x1="404.05" y1="245.20" x2="419.14" y2="190.74"><stop offset="0.000" stop-color="#3e44d0"/><stop offset="0.167" stop-color="#3263db"/><stop offset="0.333" stop-color="#2281ca"/><stop offset="0.500" stop-color="#0e99b7"/><stop offset="0.667" stop-color="#22a793"/><stop offset="0.833" stop-color="#53b062"/><stop offset="1.000" stop-color="#9fa92a"/></linearGradient><linearGradient id="gR30" gradientUnits="userSpaceOnUse" x1="406.77" y1="245.30" x2="421.87" y2="190.85"><stop offset="0.000" stop-color="#3e42ce"/><stop offset="0.167" stop-color="#3461db"/><stop offset="0.333" stop-color="#237fcc"/><stop offset="0.500" stop-color="#1098b9"/><stop offset="0.667" stop-color="#20a795"/><stop offset="0.833" stop-color="#4fb065"/><stop offset="1.000" stop-color="#9ba92c"/></linearGradient><linearGradient id="gR31" gradientUnits="userSpaceOnUse" x1="409.50" y1="245.40" x2="424.60" y2="190.95"><stop offset="0.000" stop-color="#3e40cd"/><stop offset="0.167" stop-color="#365fdb"/><stop offset="0.333" stop-color="#247ecd"/><stop offset="0.500" stop-color="#1297ba"/><stop offset="0.667" stop-color="#1da698"/><stop offset="0.833" stop-color="#4bb068"/><stop offset="1.000" stop-color="#97aa2e"/></linearGradient><linearGradient id="gR32" gradientUnits="userSpaceOnUse" x1="412.23" y1="245.50" x2="427.33" y2="191.05"><stop offset="0.000" stop-color="#3e3ecb"/><stop offset="0.167" stop-color="#375ddb"/><stop offset="0.333" stop-color="#257cce"/><stop offset="0.500" stop-color="#1495bc"/><stop offset="0.667" stop-color="#19a59a"/><stop offset="0.833" stop-color="#47af6c"/><stop offset="1.000" stop-color="#93ab31"/></linearGradient><linearGradient id="gR33" gradientUnits="userSpaceOnUse" x1="414.95" y1="245.60" x2="430.06" y2="191.16"><stop offset="0.000" stop-color="#3d3dca"/><stop offset="0.167" stop-color="#385cda"/><stop offset="0.333" stop-color="#267bcf"/><stop offset="0.500" stop-color="#1694bd"/><stop offset="0.667" stop-color="#15a49c"/><stop offset="0.833" stop-color="#43af6f"/><stop offset="1.000" stop-color="#8eac35"/></linearGradient><linearGradient id="gR34" gradientUnits="userSpaceOnUse" x1="417.68" y1="245.70" x2="432.79" y2="191.26"><stop offset="0.000" stop-color="#3d3cc9"/><stop offset="0.167" stop-color="#395ada"/><stop offset="0.333" stop-color="#2679d0"/><stop offset="0.500" stop-color="#1793bf"/><stop offset="0.667" stop-color="#11a49e"/><stop offset="0.833" stop-color="#3faf73"/><stop offset="1.000" stop-color="#89ac38"/></linearGradient><linearGradient id="gR35" gradientUnits="userSpaceOnUse" x1="420.41" y1="245.79" x2="435.52" y2="191.36"><stop offset="0.000" stop-color="#3d3ac7"/><stop offset="0.167" stop-color="#3a58da"/><stop offset="0.333" stop-color="#2778d1"/><stop offset="0.500" stop-color="#1892c0"/><stop offset="0.667" stop-color="#0ca3a1"/><stop offset="0.833" stop-color="#3bae76"/><stop offset="1.000" stop-color="#84ad3c"/></linearGradient><linearGradient id="gR36" gradientUnits="userSpaceOnUse" x1="423.13" y1="245.89" x2="438.25" y2="191.47"><stop offset="0.000" stop-color="#3d39c6"/><stop offset="0.167" stop-color="#3b57da"/><stop offset="0.333" stop-color="#2776d3"/><stop offset="0.500" stop-color="#1990c1"/><stop offset="0.667" stop-color="#08a2a3"/><stop offset="0.833" stop-color="#37ae79"/><stop offset="1.000" stop-color="#80ae3f"/></linearGradient><linearGradient id="gR37" gradientUnits="userSpaceOnUse" x1="425.86" y1="245.99" x2="440.98" y2="191.57"><stop offset="0.000" stop-color="#3d38c4"/><stop offset="0.167" stop-color="#3b55d9"/><stop offset="0.333" stop-color="#2775d4"/><stop offset="0.500" stop-color="#1a8fc2"/><stop offset="0.667" stop-color="#05a1a5"/><stop offset="0.833" stop-color="#34ad7c"/><stop offset="1.000" stop-color="#7bae43"/></linearGradient><linearGradient id="gR38" gradientUnits="userSpaceOnUse" x1="428.59" y1="246.09" x2="443.71" y2="191.67"><stop offset="0.000" stop-color="#3d36c3"/><stop offset="0.167" stop-color="#3c54d9"/><stop offset="0.333" stop-color="#2773d5"/><stop offset="0.500" stop-color="#1c8dc3"/><stop offset="0.667" stop-color="#02a1a7"/><stop offset="0.833" stop-color="#32ad7f"/><stop offset="1.000" stop-color="#76af47"/></linearGradient><linearGradient id="gR39" gradientUnits="userSpaceOnUse" x1="431.32" y1="246.19" x2="446.44" y2="191.78"><stop offset="0.000" stop-color="#3d35c1"/><stop offset="0.167" stop-color="#3c52d8"/><stop offset="0.333" stop-color="#2871d6"/><stop offset="0.500" stop-color="#1d8cc4"/><stop offset="0.667" stop-color="#01a0a9"/><stop offset="0.833" stop-color="#2fac82"/><stop offset="1.000" stop-color="#71af4b"/></linearGradient><linearGradient id="gR40" gradientUnits="userSpaceOnUse" x1="434.04" y1="246.29" x2="449.17" y2="191.88"><stop offset="0.000" stop-color="#3c34bf"/><stop offset="0.167" stop-color="#3c51d8"/><stop offset="0.333" stop-color="#2870d7"/><stop offset="0.500" stop-color="#1e8bc4"/><stop offset="0.667" stop-color="#019fac"/><stop offset="0.833" stop-color="#2dab85"/><stop offset="1.000" stop-color="#6caf4f"/></linearGradient><linearGradient id="gR41" gradientUnits="userSpaceOnUse" x1="436.77" y1="246.38" x2="451.90" y2="191.98"><stop offset="0.000" stop-color="#3c32bd"/><stop offset="0.167" stop-color="#3d4fd7"/><stop offset="0.333" stop-color="#296ed7"/><stop offset="0.500" stop-color="#1f89c5"/><stop offset="0.667" stop-color="#019eae"/><stop offset="0.833" stop-color="#2baa88"/><stop offset="1.000" stop-color="#66b052"/></linearGradient><linearGradient id="gR42" gradientUnits="userSpaceOnUse" x1="439.50" y1="246.48" x2="454.63" y2="192.08"><stop offset="0.000" stop-color="#3c31bb"/><stop offset="0.167" stop-color="#3d4ed6"/><stop offset="0.333" stop-color="#2a6dd8"/><stop offset="0.500" stop-color="#1f88c6"/><stop offset="0.667" stop-color="#039db0"/><stop offset="0.833" stop-color="#29aa8b"/><stop offset="1.000" stop-color="#61b056"/></linearGradient><linearGradient id="gR43" gradientUnits="userSpaceOnUse" x1="442.22" y1="246.58" x2="457.36" y2="192.19"><stop offset="0.000" stop-color="#3c30b9"/><stop offset="0.167" stop-color="#3d4cd5"/><stop offset="0.333" stop-color="#2b6bd9"/><stop offset="0.500" stop-color="#2086c7"/><stop offset="0.667" stop-color="#059cb2"/><stop offset="0.833" stop-color="#27a98d"/><stop offset="1.000" stop-color="#5cb05a"/></linearGradient><linearGradient id="gR44" gradientUnits="userSpaceOnUse" x1="444.95" y1="246.68" x2="460.09" y2="192.29"><stop offset="0.000" stop-color="#3b2fb7"/><stop offset="0.167" stop-color="#3d4bd5"/><stop offset="0.333" stop-color="#2c69d9"/><stop offset="0.500" stop-color="#2085c8"/><stop offset="0.667" stop-color="#089bb4"/><stop offset="0.833" stop-color="#25a890"/><stop offset="1.000" stop-color="#58b05e"/></linearGradient><linearGradient id="gR45" gradientUnits="userSpaceOnUse" x1="447.68" y1="246.78" x2="462.82" y2="192.39"><stop offset="0.000" stop-color="#3b2eb4"/><stop offset="0.167" stop-color="#3d49d4"/><stop offset="0.333" stop-color="#2e67da"/><stop offset="0.500" stop-color="#2183c9"/><stop offset="0.667" stop-color="#0b9ab6"/><stop offset="0.833" stop-color="#23a792"/><stop offset="1.000" stop-color="#53b062"/></linearGradient><linearGradient id="gR46" gradientUnits="userSpaceOnUse" x1="450.40" y1="246.88" x2="465.55" y2="192.50"><stop offset="0.000" stop-color="#3b2db2"/><stop offset="0.167" stop-color="#3e48d3"/><stop offset="0.333" stop-color="#3065db"/><stop offset="0.500" stop-color="#2282ca"/><stop offset="0.667" stop-color="#0e99b8"/><stop offset="0.833" stop-color="#20a795"/><stop offset="1.000" stop-color="#4fb066"/></linearGradient><linearGradient id="gR47" gradientUnits="userSpaceOnUse" x1="453.13" y1="246.97" x2="468.28" y2="192.60"><stop offset="0.000" stop-color="#3a2caf"/><stop offset="0.167" stop-color="#3e46d2"/><stop offset="0.333" stop-color="#3264db"/><stop offset="0.500" stop-color="#2380cb"/><stop offset="0.667" stop-color="#1197b9"/><stop offset="0.833" stop-color="#1da697"/><stop offset="1.000" stop-color="#4ab069"/></linearGradient><linearGradient id="gR48" gradientUnits="userSpaceOnUse" x1="455.86" y1="247.07" x2="471.01" y2="192.70"><stop offset="0.000" stop-color="#3a2bad"/><stop offset="0.167" stop-color="#3e45d1"/><stop offset="0.333" stop-color="#3362db"/><stop offset="0.500" stop-color="#247fcc"/><stop offset="0.667" stop-color="#1296bb"/><stop offset="0.833" stop-color="#1aa599"/><stop offset="1.000" stop-color="#46af6d"/></linearGradient><linearGradient id="gR49" gradientUnits="userSpaceOnUse" x1="458.59" y1="247.17" x2="473.74" y2="192.81"><stop offset="0.000" stop-color="#3a2aab"/><stop offset="0.167" stop-color="#3e44d0"/><stop offset="0.333" stop-color="#3461db"/><stop offset="0.500" stop-color="#247ecd"/><stop offset="0.667" stop-color="#1495bc"/><stop offset="0.833" stop-color="#16a59c"/><stop offset="1.000" stop-color="#41af70"/></linearGradient><linearGradient id="gR50" gradientUnits="userSpaceOnUse" x1="461.31" y1="247.27" x2="476.47" y2="192.91"><stop offset="0.000" stop-color="#392aaa"/><stop offset="0.167" stop-color="#3e43cf"/><stop offset="0.333" stop-color="#3560db"/><stop offset="0.500" stop-color="#257dce"/><stop offset="0.667" stop-color="#1694bd"/><stop offset="0.833" stop-color="#12a49e"/><stop offset="1.000" stop-color="#3daf74"/></linearGradient><linearGradient id="gR51" gradientUnits="userSpaceOnUse" x1="464.04" y1="247.37" x2="479.20" y2="193.01"><stop offset="0.000" stop-color="#3929a8"/><stop offset="0.167" stop-color="#3e42cf"/><stop offset="0.333" stop-color="#365edb"/><stop offset="0.500" stop-color="#267bcf"/><stop offset="0.667" stop-color="#1793be"/><stop offset="0.833" stop-color="#0ea3a0"/><stop offset="1.000" stop-color="#3aae77"/></linearGradient><linearGradient id="gR52" gradientUnits="userSpaceOnUse" x1="466.77" y1="247.47" x2="481.93" y2="193.12"><stop offset="0.000" stop-color="#3928a6"/><stop offset="0.167" stop-color="#3e41ce"/><stop offset="0.333" stop-color="#375ddb"/><stop offset="0.500" stop-color="#267ad0"/><stop offset="0.667" stop-color="#1892c0"/><stop offset="0.833" stop-color="#0aa3a2"/><stop offset="1.000" stop-color="#36ae7a"/></linearGradient><linearGradient id="gR53" gradientUnits="userSpaceOnUse" x1="469.49" y1="247.57" x2="484.66" y2="193.22"><stop offset="0.000" stop-color="#3828a4"/><stop offset="0.167" stop-color="#3e40cd"/><stop offset="0.333" stop-color="#385cda"/><stop offset="0.500" stop-color="#2779d1"/><stop offset="0.667" stop-color="#1991c1"/><stop offset="0.833" stop-color="#07a2a4"/><stop offset="1.000" stop-color="#33ad7e"/></linearGradient><linearGradient id="gR54" gradientUnits="userSpaceOnUse" x1="472.22" y1="247.66" x2="487.39" y2="193.32"><stop offset="0.000" stop-color="#3827a2"/><stop offset="0.167" stop-color="#3e3fcc"/><stop offset="0.333" stop-color="#395bda"/><stop offset="0.500" stop-color="#2777d2"/><stop offset="0.667" stop-color="#1a90c1"/><stop offset="0.833" stop-color="#04a1a6"/><stop offset="1.000" stop-color="#30ac81"/></linearGradient><linearGradient id="gR55" gradientUnits="userSpaceOnUse" x1="474.95" y1="247.76" x2="490.12" y2="193.43"><stop offset="0.000" stop-color="#3826a0"/><stop offset="0.167" stop-color="#3d3ecb"/><stop offset="0.333" stop-color="#3a59da"/><stop offset="0.500" stop-color="#2776d3"/><stop offset="0.667" stop-color="#1b8ec2"/><stop offset="0.833" stop-color="#01a0a8"/><stop offset="1.000" stop-color="#2eac84"/></linearGradient><linearGradient id="gR56" gradientUnits="userSpaceOnUse" x1="477.67" y1="247.86" x2="492.85" y2="193.53"><stop offset="0.000" stop-color="#37259e"/><stop offset="0.167" stop-color="#3d3dca"/><stop offset="0.333" stop-color="#3a58da"/><stop offset="0.500" stop-color="#2775d4"/><stop offset="0.667" stop-color="#1c8dc3"/><stop offset="0.833" stop-color="#019faa"/><stop offset="1.000" stop-color="#2cab86"/></linearGradient><linearGradient id="gR57" gradientUnits="userSpaceOnUse" x1="480.40" y1="247.96" x2="495.58" y2="193.63"><stop offset="0.000" stop-color="#37259c"/><stop offset="0.167" stop-color="#3d3bc9"/><stop offset="0.333" stop-color="#3b57da"/><stop offset="0.500" stop-color="#2774d5"/><stop offset="0.667" stop-color="#1d8cc4"/><stop offset="0.833" stop-color="#019fac"/><stop offset="1.000" stop-color="#2aaa89"/></linearGradient><linearGradient id="gR58" gradientUnits="userSpaceOnUse" x1="483.13" y1="248.06" x2="498.31" y2="193.74"><stop offset="0.000" stop-color="#37249a"/><stop offset="0.167" stop-color="#3d3ac7"/><stop offset="0.333" stop-color="#3b56d9"/><stop offset="0.500" stop-color="#2872d5"/><stop offset="0.667" stop-color="#1e8bc4"/><stop offset="0.833" stop-color="#019eae"/><stop offset="1.000" stop-color="#28a98c"/></linearGradient><linearGradient id="gR59" gradientUnits="userSpaceOnUse" x1="485.86" y1="248.16" x2="501.04" y2="193.84"><stop offset="0.000" stop-color="#362398"/><stop offset="0.167" stop-color="#3d39c6"/><stop offset="0.333" stop-color="#3b54d9"/><stop offset="0.500" stop-color="#2871d6"/><stop offset="0.667" stop-color="#1e89c5"/><stop offset="0.833" stop-color="#039db0"/><stop offset="1.000" stop-color="#26a98f"/></linearGradient><linearGradient id="gR60" gradientUnits="userSpaceOnUse" x1="488.58" y1="248.25" x2="503.77" y2="193.94"><stop offset="0.000" stop-color="#362396"/><stop offset="0.167" stop-color="#3d38c5"/><stop offset="0.333" stop-color="#3c53d8"/><stop offset="0.500" stop-color="#2870d7"/><stop offset="0.667" stop-color="#1f88c6"/><stop offset="0.833" stop-color="#059cb2"/><stop offset="1.000" stop-color="#24a891"/></linearGradient><linearGradient id="gR61" gradientUnits="userSpaceOnUse" x1="491.31" y1="248.35" x2="506.50" y2="194.05"><stop offset="0.000" stop-color="#362294"/><stop offset="0.167" stop-color="#3d37c4"/><stop offset="0.333" stop-color="#3c52d8"/><stop offset="0.500" stop-color="#296ed7"/><stop offset="0.667" stop-color="#1f87c6"/><stop offset="0.833" stop-color="#089bb4"/><stop offset="1.000" stop-color="#21a794"/></linearGradient><linearGradient id="gR62" gradientUnits="userSpaceOnUse" x1="494.04" y1="248.45" x2="509.23" y2="194.15"><stop offset="0.000" stop-color="#352192"/><stop offset="0.167" stop-color="#3d36c3"/><stop offset="0.333" stop-color="#3c51d8"/><stop offset="0.500" stop-color="#2a6dd8"/><stop offset="0.667" stop-color="#2086c7"/><stop offset="0.833" stop-color="#0b9ab6"/><stop offset="1.000" stop-color="#1ea696"/></linearGradient><clipPath id="cgR"><polygon points="323.6,242.3 495.4,248.5 510.6,194.2 338.6,187.7"/></clipPath></defs>
<polygon points="323.60,242.30 326.58,242.41 341.59,187.81 338.60,187.70" fill="url(#gR0)"/>
<polygon points="326.07,242.39 329.31,242.51 344.32,187.92 341.07,187.79" fill="url(#gR1)"/>
<polygon points="328.80,242.49 332.04,242.60 347.05,188.02 343.80,187.90" fill="url(#gR2)"/>
<polygon points="331.52,242.59 334.77,242.70 349.78,188.12 346.53,188.00" fill="url(#gR3)"/>
<polygon points="334.25,242.68 337.49,242.80 352.51,188.23 349.26,188.10" fill="url(#gR4)"/>
<polygon points="336.98,242.78 340.22,242.90 355.24,188.33 351.99,188.21" fill="url(#gR5)"/>
<polygon points="339.70,242.88 342.95,243.00 357.97,188.43 354.72,188.31" fill="url(#gR6)"/>
<polygon points="342.43,242.98 345.67,243.10 360.70,188.54 357.45,188.41" fill="url(#gR7)"/>
<polygon points="345.16,243.08 348.40,243.20 363.43,188.64 360.18,188.52" fill="url(#gR8)"/>
<polygon points="347.89,243.18 351.13,243.29 366.16,188.74 362.91,188.62" fill="url(#gR9)"/>
<polygon points="350.61,243.27 353.85,243.39 368.89,188.84 365.64,188.72" fill="url(#gR10)"/>
<polygon points="353.34,243.37 356.58,243.49 371.62,188.95 368.37,188.83" fill="url(#gR11)"/>
<polygon points="356.07,243.47 359.31,243.59 374.35,189.05 371.10,188.93" fill="url(#gR12)"/>
<polygon points="358.79,243.57 362.04,243.69 377.08,189.15 373.83,189.03" fill="url(#gR13)"/>
<polygon points="361.52,243.67 364.76,243.79 379.81,189.26 376.56,189.13" fill="url(#gR14)"/>
<polygon points="364.25,243.77 367.49,243.88 382.54,189.36 379.29,189.24" fill="url(#gR15)"/>
<polygon points="366.97,243.87 370.22,243.98 385.27,189.46 382.02,189.34" fill="url(#gR16)"/>
<polygon points="369.70,243.96 372.94,244.08 388.00,189.57 384.75,189.44" fill="url(#gR17)"/>
<polygon points="372.43,244.06 375.67,244.18 390.73,189.67 387.48,189.55" fill="url(#gR18)"/>
<polygon points="375.15,244.16 378.40,244.28 393.46,189.77 390.22,189.65" fill="url(#gR19)"/>
<polygon points="377.88,244.26 381.12,244.38 396.19,189.88 392.95,189.75" fill="url(#gR20)"/>
<polygon points="380.61,244.36 383.85,244.47 398.92,189.98 395.68,189.86" fill="url(#gR21)"/>
<polygon points="383.34,244.46 386.58,244.57 401.65,190.08 398.41,189.96" fill="url(#gR22)"/>
<polygon points="386.06,244.55 389.31,244.67 404.38,190.19 401.14,190.06" fill="url(#gR23)"/>
<polygon points="388.79,244.65 392.03,244.77 407.11,190.29 403.87,190.17" fill="url(#gR24)"/>
<polygon points="391.52,244.75 394.76,244.87 409.84,190.39 406.60,190.27" fill="url(#gR25)"/>
<polygon points="394.24,244.85 397.49,244.97 412.57,190.50 409.33,190.37" fill="url(#gR26)"/>
<polygon points="396.97,244.95 400.21,245.06 415.30,190.60 412.06,190.48" fill="url(#gR27)"/>
<polygon points="399.70,245.05 402.94,245.16 418.03,190.70 414.79,190.58" fill="url(#gR28)"/>
<polygon points="402.42,245.14 405.67,245.26 420.76,190.80 417.52,190.68" fill="url(#gR29)"/>
<polygon points="405.15,245.24 408.39,245.36 423.49,190.91 420.25,190.79" fill="url(#gR30)"/>
<polygon points="407.88,245.34 411.12,245.46 426.22,191.01 422.98,190.89" fill="url(#gR31)"/>
<polygon points="410.61,245.44 413.85,245.56 428.95,191.11 425.71,190.99" fill="url(#gR32)"/>
<polygon points="413.33,245.54 416.58,245.66 431.68,191.22 428.44,191.10" fill="url(#gR33)"/>
<polygon points="416.06,245.64 419.30,245.75 434.41,191.32 431.17,191.20" fill="url(#gR34)"/>
<polygon points="418.79,245.74 422.03,245.85 437.14,191.42 433.90,191.30" fill="url(#gR35)"/>
<polygon points="421.51,245.83 424.76,245.95 439.87,191.53 436.63,191.40" fill="url(#gR36)"/>
<polygon points="424.24,245.93 427.48,246.05 442.60,191.63 439.36,191.51" fill="url(#gR37)"/>
<polygon points="426.97,246.03 430.21,246.15 445.33,191.73 442.09,191.61" fill="url(#gR38)"/>
<polygon points="429.69,246.13 432.94,246.25 448.06,191.84 444.82,191.71" fill="url(#gR39)"/>
<polygon points="432.42,246.23 435.66,246.34 450.79,191.94 447.55,191.82" fill="url(#gR40)"/>
<polygon points="435.15,246.33 438.39,246.44 453.52,192.04 450.28,191.92" fill="url(#gR41)"/>
<polygon points="437.88,246.42 441.12,246.54 456.25,192.15 453.01,192.02" fill="url(#gR42)"/>
<polygon points="440.60,246.52 443.85,246.64 458.98,192.25 455.74,192.13" fill="url(#gR43)"/>
<polygon points="443.33,246.62 446.57,246.74 461.72,192.35 458.47,192.23" fill="url(#gR44)"/>
<polygon points="446.06,246.72 449.30,246.84 464.45,192.46 461.20,192.33" fill="url(#gR45)"/>
<polygon points="448.78,246.82 452.03,246.93 467.18,192.56 463.93,192.44" fill="url(#gR46)"/>
<polygon points="451.51,246.92 454.75,247.03 469.91,192.66 466.66,192.54" fill="url(#gR47)"/>
<polygon points="454.24,247.01 457.48,247.13 472.64,192.77 469.39,192.64" fill="url(#gR48)"/>
<polygon points="456.96,247.11 460.21,247.23 475.37,192.87 472.12,192.75" fill="url(#gR49)"/>
<polygon points="459.69,247.21 462.93,247.33 478.10,192.97 474.85,192.85" fill="url(#gR50)"/>
<polygon points="462.42,247.31 465.66,247.43 480.83,193.07 477.58,192.95" fill="url(#gR51)"/>
<polygon points="465.15,247.41 468.39,247.53 483.56,193.18 480.31,193.06" fill="url(#gR52)"/>
<polygon points="467.87,247.51 471.11,247.62 486.29,193.28 483.04,193.16" fill="url(#gR53)"/>
<polygon points="470.60,247.60 473.84,247.72 489.02,193.38 485.77,193.26" fill="url(#gR54)"/>
<polygon points="473.33,247.70 476.57,247.82 491.75,193.49 488.50,193.36" fill="url(#gR55)"/>
<polygon points="476.05,247.80 479.30,247.92 494.48,193.59 491.23,193.47" fill="url(#gR56)"/>
<polygon points="478.78,247.90 482.02,248.02 497.21,193.69 493.96,193.57" fill="url(#gR57)"/>
<polygon points="481.51,248.00 484.75,248.12 499.94,193.80 496.69,193.67" fill="url(#gR58)"/>
<polygon points="484.23,248.10 487.48,248.21 502.67,193.90 499.42,193.78" fill="url(#gR59)"/>
<polygon points="486.96,248.20 490.20,248.31 505.40,194.00 502.15,193.88" fill="url(#gR60)"/>
<polygon points="489.69,248.29 492.93,248.41 508.13,194.11 504.88,193.98" fill="url(#gR61)"/>
<polygon points="492.42,248.39 495.40,248.50 510.60,194.20 507.61,194.09" fill="url(#gR62)"/>
<g clip-path="url(#cgR)">
<line x1="323.6" y1="242.3" x2="338.6" y2="187.7" stroke="#000" stroke-width="0.9" stroke-opacity="0.45"/>
<line x1="326.33" y1="242.4" x2="341.33" y2="187.8" stroke="#000" stroke-width="0.9" stroke-opacity="0.45"/>
<line x1="329.05" y1="242.5" x2="344.06" y2="187.91" stroke="#000" stroke-width="0.9" stroke-opacity="0.45"/>
<line x1="331.78" y1="242.6" x2="346.79" y2="188.01" stroke="#000" stroke-width="0.9" stroke-opacity="0.45"/>
<line x1="334.51" y1="242.69" x2="349.52" y2="188.11" stroke="#000" stroke-width="0.9" stroke-opacity="0.45"/>
<line x1="337.23" y1="242.79" x2="352.25" y2="188.22" stroke="#000" stroke-width="0.9" stroke-opacity="0.45"/>
<line x1="339.96" y1="242.89" x2="354.98" y2="188.32" stroke="#000" stroke-width="0.9" stroke-opacity="0.45"/>
<line x1="342.69" y1="242.99" x2="357.71" y2="188.42" stroke="#000" stroke-width="0.9" stroke-opacity="0.45"/>
<line x1="345.42" y1="243.09" x2="360.44" y2="188.53" stroke="#000" stroke-width="0.9" stroke-opacity="0.45"/>
<line x1="348.14" y1="243.19" x2="363.17" y2="188.63" stroke="#000" stroke-width="0.9" stroke-opacity="0.45"/>
<line x1="350.87" y1="243.28" x2="365.9" y2="188.73" stroke="#000" stroke-width="0.9" stroke-opacity="0.45"/>
<line x1="353.6" y1="243.38" x2="368.63" y2="188.83" stroke="#000" stroke-width="0.9" stroke-opacity="0.45"/>
<line x1="356.32" y1="243.48" x2="371.36" y2="188.94" stroke="#000" stroke-width="0.9" stroke-opacity="0.45"/>
<line x1="359.05" y1="243.58" x2="374.09" y2="189.04" stroke="#000" stroke-width="0.9" stroke-opacity="0.45"/>
<line x1="361.78" y1="243.68" x2="376.82" y2="189.14" stroke="#000" stroke-width="0.9" stroke-opacity="0.45"/>
<line x1="364.5" y1="243.78" x2="379.55" y2="189.25" stroke="#000" stroke-width="0.9" stroke-opacity="0.45"/>
<line x1="367.23" y1="243.87" x2="382.28" y2="189.35" stroke="#000" stroke-width="0.9" stroke-opacity="0.45"/>
<line x1="369.96" y1="243.97" x2="385.01" y2="189.45" stroke="#000" stroke-width="0.9" stroke-opacity="0.45"/>
<line x1="372.69" y1="244.07" x2="387.74" y2="189.56" stroke="#000" stroke-width="0.9" stroke-opacity="0.45"/>
<line x1="375.41" y1="244.17" x2="390.47" y2="189.66" stroke="#000" stroke-width="0.9" stroke-opacity="0.45"/>
<line x1="378.14" y1="244.27" x2="393.2" y2="189.76" stroke="#000" stroke-width="0.9" stroke-opacity="0.45"/>
<line x1="380.87" y1="244.37" x2="395.93" y2="189.87" stroke="#000" stroke-width="0.9" stroke-opacity="0.45"/>
<line x1="383.59" y1="244.47" x2="398.66" y2="189.97" stroke="#000" stroke-width="0.9" stroke-opacity="0.45"/>
<line x1="386.32" y1="244.56" x2="401.39" y2="190.07" stroke="#000" stroke-width="0.9" stroke-opacity="0.45"/>
<line x1="389.05" y1="244.66" x2="404.12" y2="190.18" stroke="#000" stroke-width="0.9" stroke-opacity="0.45"/>
<line x1="391.77" y1="244.76" x2="406.85" y2="190.28" stroke="#000" stroke-width="0.9" stroke-opacity="0.45"/>
<line x1="394.5" y1="244.86" x2="409.58" y2="190.38" stroke="#000" stroke-width="0.9" stroke-opacity="0.45"/>
<line x1="397.23" y1="244.96" x2="412.31" y2="190.49" stroke="#000" stroke-width="0.9" stroke-opacity="0.45"/>
<line x1="399.96" y1="245.06" x2="415.04" y2="190.59" stroke="#000" stroke-width="0.9" stroke-opacity="0.45"/>
<line x1="402.68" y1="245.15" x2="417.77" y2="190.69" stroke="#000" stroke-width="0.9" stroke-opacity="0.45"/>
<line x1="405.41" y1="245.25" x2="420.5" y2="190.8" stroke="#000" stroke-width="0.9" stroke-opacity="0.45"/>
<line x1="408.14" y1="245.35" x2="423.23" y2="190.9" stroke="#000" stroke-width="0.9" stroke-opacity="0.45"/>
<line x1="410.86" y1="245.45" x2="425.97" y2="191" stroke="#000" stroke-width="0.9" stroke-opacity="0.45"/>
<line x1="413.59" y1="245.55" x2="428.7" y2="191.1" stroke="#000" stroke-width="0.9" stroke-opacity="0.45"/>
<line x1="416.32" y1="245.65" x2="431.43" y2="191.21" stroke="#000" stroke-width="0.9" stroke-opacity="0.45"/>
<line x1="419.04" y1="245.74" x2="434.16" y2="191.31" stroke="#000" stroke-width="0.9" stroke-opacity="0.45"/>
<line x1="421.77" y1="245.84" x2="436.89" y2="191.41" stroke="#000" stroke-width="0.9" stroke-opacity="0.45"/>
<line x1="424.5" y1="245.94" x2="439.62" y2="191.52" stroke="#000" stroke-width="0.9" stroke-opacity="0.45"/>
<line x1="427.23" y1="246.04" x2="442.35" y2="191.62" stroke="#000" stroke-width="0.9" stroke-opacity="0.45"/>
<line x1="429.95" y1="246.14" x2="445.08" y2="191.72" stroke="#000" stroke-width="0.9" stroke-opacity="0.45"/>
<line x1="432.68" y1="246.24" x2="447.81" y2="191.83" stroke="#000" stroke-width="0.9" stroke-opacity="0.45"/>
<line x1="435.41" y1="246.33" x2="450.54" y2="191.93" stroke="#000" stroke-width="0.9" stroke-opacity="0.45"/>
<line x1="438.13" y1="246.43" x2="453.27" y2="192.03" stroke="#000" stroke-width="0.9" stroke-opacity="0.45"/>
<line x1="440.86" y1="246.53" x2="456" y2="192.14" stroke="#000" stroke-width="0.9" stroke-opacity="0.45"/>
<line x1="443.59" y1="246.63" x2="458.73" y2="192.24" stroke="#000" stroke-width="0.9" stroke-opacity="0.45"/>
<line x1="446.31" y1="246.73" x2="461.46" y2="192.34" stroke="#000" stroke-width="0.9" stroke-opacity="0.45"/>
<line x1="449.04" y1="246.83" x2="464.19" y2="192.45" stroke="#000" stroke-width="0.9" stroke-opacity="0.45"/>
<line x1="451.77" y1="246.93" x2="466.92" y2="192.55" stroke="#000" stroke-width="0.9" stroke-opacity="0.45"/>
<line x1="454.5" y1="247.02" x2="469.65" y2="192.65" stroke="#000" stroke-width="0.9" stroke-opacity="0.45"/>
<line x1="457.22" y1="247.12" x2="472.38" y2="192.76" stroke="#000" stroke-width="0.9" stroke-opacity="0.45"/>
<line x1="459.95" y1="247.22" x2="475.11" y2="192.86" stroke="#000" stroke-width="0.9" stroke-opacity="0.45"/>
<line x1="462.68" y1="247.32" x2="477.84" y2="192.96" stroke="#000" stroke-width="0.9" stroke-opacity="0.45"/>
<line x1="465.4" y1="247.42" x2="480.57" y2="193.07" stroke="#000" stroke-width="0.9" stroke-opacity="0.45"/>
<line x1="468.13" y1="247.52" x2="483.3" y2="193.17" stroke="#000" stroke-width="0.9" stroke-opacity="0.45"/>
<line x1="470.86" y1="247.61" x2="486.03" y2="193.27" stroke="#000" stroke-width="0.9" stroke-opacity="0.45"/>
<line x1="473.58" y1="247.71" x2="488.76" y2="193.37" stroke="#000" stroke-width="0.9" stroke-opacity="0.45"/>
<line x1="476.31" y1="247.81" x2="491.49" y2="193.48" stroke="#000" stroke-width="0.9" stroke-opacity="0.45"/>
<line x1="479.04" y1="247.91" x2="494.22" y2="193.58" stroke="#000" stroke-width="0.9" stroke-opacity="0.45"/>
<line x1="481.77" y1="248.01" x2="496.95" y2="193.68" stroke="#000" stroke-width="0.9" stroke-opacity="0.45"/>
<line x1="484.49" y1="248.11" x2="499.68" y2="193.79" stroke="#000" stroke-width="0.9" stroke-opacity="0.45"/>
<line x1="487.22" y1="248.2" x2="502.41" y2="193.89" stroke="#000" stroke-width="0.9" stroke-opacity="0.45"/>
<line x1="489.95" y1="248.3" x2="505.14" y2="193.99" stroke="#000" stroke-width="0.9" stroke-opacity="0.45"/>
<line x1="492.67" y1="248.4" x2="507.87" y2="194.1" stroke="#000" stroke-width="0.9" stroke-opacity="0.45"/>
<line x1="495.4" y1="248.5" x2="510.6" y2="194.2" stroke="#000" stroke-width="0.9" stroke-opacity="0.45"/>
<line x1="323.6" y1="242.3" x2="495.4" y2="248.5" stroke="#000" stroke-width="0.6" stroke-opacity="0.3"/>
<line x1="324.35" y1="239.57" x2="496.16" y2="245.78" stroke="#000" stroke-width="0.6" stroke-opacity="0.3"/>
<line x1="325.1" y1="236.84" x2="496.92" y2="243.07" stroke="#000" stroke-width="0.6" stroke-opacity="0.3"/>
<line x1="325.85" y1="234.11" x2="497.68" y2="240.35" stroke="#000" stroke-width="0.6" stroke-opacity="0.3"/>
<line x1="326.6" y1="231.38" x2="498.44" y2="237.64" stroke="#000" stroke-width="0.6" stroke-opacity="0.3"/>
<line x1="327.35" y1="228.65" x2="499.2" y2="234.93" stroke="#000" stroke-width="0.6" stroke-opacity="0.3"/>
<line x1="328.1" y1="225.92" x2="499.96" y2="232.21" stroke="#000" stroke-width="0.6" stroke-opacity="0.3"/>
<line x1="328.85" y1="223.19" x2="500.72" y2="229.5" stroke="#000" stroke-width="0.6" stroke-opacity="0.3"/>
<line x1="329.6" y1="220.46" x2="501.48" y2="226.78" stroke="#000" stroke-width="0.6" stroke-opacity="0.3"/>
<line x1="330.35" y1="217.73" x2="502.24" y2="224.06" stroke="#000" stroke-width="0.6" stroke-opacity="0.3"/>
<line x1="331.1" y1="215" x2="503" y2="221.35" stroke="#000" stroke-width="0.6" stroke-opacity="0.3"/>
<line x1="331.85" y1="212.27" x2="503.76" y2="218.63" stroke="#000" stroke-width="0.6" stroke-opacity="0.3"/>
<line x1="332.6" y1="209.54" x2="504.52" y2="215.92" stroke="#000" stroke-width="0.6" stroke-opacity="0.3"/>
<line x1="333.35" y1="206.81" x2="505.28" y2="213.2" stroke="#000" stroke-width="0.6" stroke-opacity="0.3"/>
<line x1="334.1" y1="204.08" x2="506.04" y2="210.49" stroke="#000" stroke-width="0.6" stroke-opacity="0.3"/>
<line x1="334.85" y1="201.35" x2="506.8" y2="207.77" stroke="#000" stroke-width="0.6" stroke-opacity="0.3"/>
<line x1="335.6" y1="198.62" x2="507.56" y2="205.06" stroke="#000" stroke-width="0.6" stroke-opacity="0.3"/>
<line x1="336.35" y1="195.89" x2="508.32" y2="202.34" stroke="#000" stroke-width="0.6" stroke-opacity="0.3"/>
<line x1="337.1" y1="193.16" x2="509.08" y2="199.63" stroke="#000" stroke-width="0.6" stroke-opacity="0.3"/>
<line x1="337.85" y1="190.43" x2="509.84" y2="196.91" stroke="#000" stroke-width="0.6" stroke-opacity="0.3"/>
<line x1="338.6" y1="187.7" x2="510.6" y2="194.2" stroke="#000" stroke-width="0.6" stroke-opacity="0.3"/>
</g>
<circle cx="323.60" cy="242.30" r="1.3" fill="#0000ff"/>
<circle cx="325.10" cy="236.84" r="1.3" fill="#0000ff"/>
<circle cx="326.60" cy="231.38" r="1.3" fill="#0000ff"/>
<circle cx="328.10" cy="225.92" r="1.3" fill="#0000ff"/>
<circle cx="329.60" cy="220.46" r="1.3" fill="#0000ff"/>
<circle cx="331.10" cy="215.00" r="1.3" fill="#0000ff"/>
<circle cx="332.60" cy="209.54" r="1.3" fill="#0000ff"/>
<circle cx="334.10" cy="204.08" r="1.3" fill="#0000ff"/>
<circle cx="335.60" cy="198.62" r="1.3" fill="#0000ff"/>
<circle cx="337.10" cy="193.16" r="1.3" fill="#0000ff"/>
<circle cx="338.60" cy="187.70" r="1.3" fill="#0000ff"/>
<circle cx="366.55" cy="243.85" r="1.3" fill="#0000ff"/>
<circle cx="368.06" cy="238.40" r="1.3" fill="#0000ff"/>
<circle cx="369.56" cy="232.95" r="1.3" fill="#0000ff"/>
<circle cx="371.06" cy="227.49" r="1.3" fill="#0000ff"/>
<circle cx="372.57" cy="222.04" r="1.3" fill="#0000ff"/>
<circle cx="374.08" cy="216.59" r="1.3" fill="#0000ff"/>
<circle cx="375.58" cy="211.13" r="1.3" fill="#0000ff"/>
<circle cx="377.09" cy="205.68" r="1.3" fill="#0000ff"/>
<circle cx="378.59" cy="200.23" r="1.3" fill="#0000ff"/>
<circle cx="380.10" cy="194.78" r="1.3" fill="#0000ff"/>
<circle cx="381.60" cy="189.32" r="1.3" fill="#0000ff"/>
<circle cx="409.50" cy="245.40" r="1.3" fill="#0000ff"/>
<circle cx="411.01" cy="239.96" r="1.3" fill="#0000ff"/>
<circle cx="412.52" cy="234.51" r="1.3" fill="#0000ff"/>
<circle cx="414.03" cy="229.06" r="1.3" fill="#0000ff"/>
<circle cx="415.54" cy="223.62" r="1.3" fill="#0000ff"/>
<circle cx="417.05" cy="218.18" r="1.3" fill="#0000ff"/>
<circle cx="418.56" cy="212.73" r="1.3" fill="#0000ff"/>
<circle cx="420.07" cy="207.28" r="1.3" fill="#0000ff"/>
<circle cx="421.58" cy="201.84" r="1.3" fill="#0000ff"/>
<circle cx="423.09" cy="196.39" r="1.3" fill="#0000ff"/>
<circle cx="424.60" cy="190.95" r="1.3" fill="#0000ff"/>
<circle cx="452.45" cy="246.95" r="1.3" fill="#0000ff"/>
<circle cx="453.96" cy="241.51" r="1.3" fill="#0000ff"/>
<circle cx="455.48" cy="236.07" r="1.3" fill="#0000ff"/>
<circle cx="457.00" cy="230.64" r="1.3" fill="#0000ff"/>
<circle cx="458.51" cy="225.20" r="1.3" fill="#0000ff"/>
<circle cx="460.02" cy="219.76" r="1.3" fill="#0000ff"/>
<circle cx="461.54" cy="214.32" r="1.3" fill="#0000ff"/>
<circle cx="463.06" cy="208.89" r="1.3" fill="#0000ff"/>
<circle cx="464.57" cy="203.45" r="1.3" fill="#0000ff"/>
<circle cx="466.09" cy="198.01" r="1.3" fill="#0000ff"/>
<circle cx="467.60" cy="192.57" r="1.3" fill="#0000ff"/>
<circle cx="495.40" cy="248.50" r="1.3" fill="#0000ff"/>
<circle cx="496.92" cy="243.07" r="1.3" fill="#0000ff"/>
<circle cx="498.44" cy="237.64" r="1.3" fill="#0000ff"/>
<circle cx="499.96" cy="232.21" r="1.3" fill="#0000ff"/>
<circle cx="501.48" cy="226.78" r="1.3" fill="#0000ff"/>
<circle cx="503.00" cy="221.35" r="1.3" fill="#0000ff"/>
<circle cx="504.52" cy="215.92" r="1.3" fill="#0000ff"/>
<circle cx="506.04" cy="210.49" r="1.3" fill="#0000ff"/>
<circle cx="507.56" cy="205.06" r="1.3" fill="#0000ff"/>
<circle cx="509.08" cy="199.63" r="1.3" fill="#0000ff"/>
<circle cx="510.60" cy="194.20" r="1.3" fill="#0000ff"/>
<line x1="319.1" y1="250.7" x2="323.9" y2="250.7" stroke="#a8a8a8" stroke-width="0.8"/>
<line x1="319.1" y1="212.42" x2="323.9" y2="212.42" stroke="#a8a8a8" stroke-width="0.8"/>
<line x1="319.1" y1="174.14" x2="323.9" y2="174.14" stroke="#a8a8a8" stroke-width="0.8"/>
<line x1="319.1" y1="135.86" x2="323.9" y2="135.86" stroke="#a8a8a8" stroke-width="0.8"/>
<line x1="319.1" y1="97.58" x2="323.9" y2="97.58" stroke="#a8a8a8" stroke-width="0.8"/>
<line x1="319.1" y1="59.3" x2="323.9" y2="59.3" stroke="#a8a8a8" stroke-width="0.8"/>
<line x1="348" y1="251.29" x2="346.75" y2="255.69" stroke="#a8a8a8" stroke-width="0.8"/>
<line x1="381.8" y1="252.11" x2="380.55" y2="256.51" stroke="#a8a8a8" stroke-width="0.8"/>
<line x1="415.7" y1="252.94" x2="414.45" y2="257.34" stroke="#a8a8a8" stroke-width="0.8"/>
<line x1="449.7" y1="253.77" x2="448.45" y2="258.17" stroke="#a8a8a8" stroke-width="0.8"/>
<line x1="483.7" y1="254.6" x2="482.45" y2="259" stroke="#a8a8a8" stroke-width="0.8"/>
<line x1="496.37" y1="253.29" x2="500.77" y2="253.39" stroke="#a8a8a8" stroke-width="0.8"/>
<line x1="500.13" y1="240.28" x2="504.53" y2="240.38" stroke="#a8a8a8" stroke-width="0.8"/>
<line x1="503.9" y1="227.28" x2="508.3" y2="227.38" stroke="#a8a8a8" stroke-width="0.8"/>
<line x1="507.67" y1="214.28" x2="512.07" y2="214.38" stroke="#a8a8a8" stroke-width="0.8"/>
<text x="316.30" y="253.60" font-family="Liberation Sans, sans-serif" font-size="6.5" fill="#262626" text-anchor="end">0</text>
<text x="316.30" y="215.32" font-family="Liberation Sans, sans-serif" font-size="6.5" fill="#262626" text-anchor="end">0.5</text>
<text x="316.30" y="177.04" font-family="Liberation Sans, sans-serif" font-size="6.5" fill="#262626" text-anchor="end">1</text>
<text x="316.30" y="138.76" font-family="Liberation Sans, sans-serif" font-size="6.5" fill="#262626" text-anchor="end">1.5</text>
<text x="316.30" y="100.48" font-family="Liberation Sans, sans-serif" font-size="6.5" fill="#262626" text-anchor="end">2</text>
<text x="316.30" y="62.20" font-family="Liberation Sans, sans-serif" font-size="6.5" fill="#262626" text-anchor="end">2.5</text>
<text x="345.80" y="265.89" font-family="Liberation Sans, sans-serif" font-size="6.5" fill="#262626" text-anchor="middle">5.4</text>
<text x="379.60" y="266.71" font-family="Liberation Sans, sans-serif" font-size="6.5" fill="#262626" text-anchor="middle">5.2</text>
<text x="413.50" y="267.54" font-family="Liberation Sans, sans-serif" font-size="6.5" fill="#262626" text-anchor="middle">5</text>
<text x="447.50" y="268.37" font-family="Liberation Sans, sans-serif" font-size="6.5" fill="#262626" text-anchor="middle">4.8</text>
<text x="481.50" y="269.20" font-family="Liberation Sans, sans-serif" font-size="6.5" fill="#262626" text-anchor="middle">4.6</text>
<text x="503.37" y="260.89" font-family="Liberation Sans, sans-serif" font-size="6.5" fill="#262626">0.036</text>
<text x="507.13" y="247.88" font-family="Liberation Sans, sans-serif" font-size="6.5" fill="#262626">0.038</text>
<text x="510.90" y="234.88" font-family="Liberation Sans, sans-serif" font-size="6.5" fill="#262626">0.04</text>
<text x="514.67" y="221.88" font-family="Liberation Sans, sans-serif" font-size="6.5" fill="#262626">0.042</text>
<text x="350.30" y="287.5" font-family="Liberation Sans, sans-serif" font-size="9.0" fill="#262626" xml:space="preserve"><tspan font-style="italic">q</tspan><tspan font-size="7.20" dx="1.6" dy="4.5">titer,max</tspan><tspan dy="-4.5" dx="2.6">[1 · 10</tspan><tspan font-size="6.6" dy="-3.6">-10</tspan><tspan dy="3.6"> mg cell</tspan><tspan font-size="6.6" dy="-3.6">-1</tspan><tspan dy="3.6">h</tspan><tspan font-size="6.6" dy="-3.6">-1</tspan><tspan dy="3.6">]</tspan></text>
<text transform="translate(541.20,256.50) rotate(-90)" font-family="Liberation Sans, sans-serif" font-size="9.0" fill="#262626" xml:space="preserve"><tspan font-style="italic">μ</tspan><tspan font-size="7.00" dy="4.2" dx="0.8">max</tspan><tspan dy="-4.2"> [h</tspan><tspan font-size="7.00" dy="-3.4">-1</tspan><tspan dy="3.4">]</tspan></text>
<text transform="translate(303.30,243.00) rotate(-90)" font-family="Liberation Sans, sans-serif" font-size="10.0" fill="#262626" xml:space="preserve">Overall process productivity [mg L<tspan font-size="7.2" dy="-4.0">-1</tspan><tspan dy="4.0"> h</tspan><tspan font-size="7.2" dy="-4.0">-1</tspan><tspan dy="4.0">]</tspan></text>
<text x="272.7" y="17.1" font-family="Liberation Sans, sans-serif" font-size="9.6" font-weight="bold" fill="#000" text-anchor="middle">50 h</text>
</g>
</svg>
</body></html>
